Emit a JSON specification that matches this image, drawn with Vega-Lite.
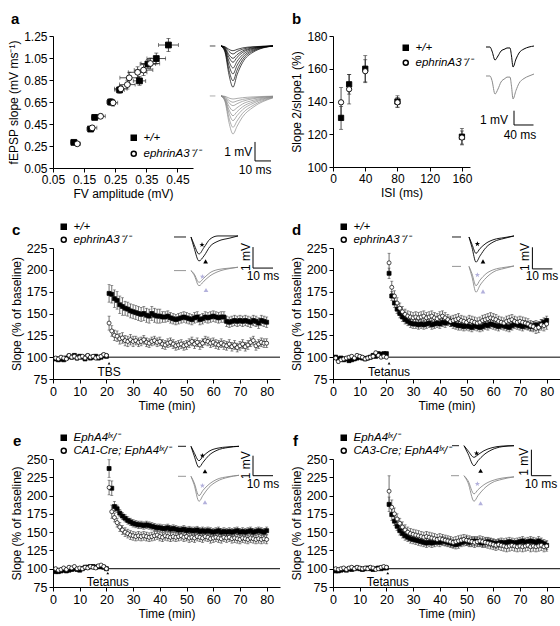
{
"$schema": "https://vega.github.io/schema/vega-lite/v6.json",
"padding": {"left": 7, "top": 12, "right": 2, "bottom": 2},
"config": {
  "font": "Liberation Sans",
  "view": {"stroke": null},
  "axis": {"grid": false, "domainColor": "#000", "tickColor": "#000", "labelColor": "#000", "titleColor": "#000", "labelFontSize": 12, "titleFontSize": 12, "titleFontWeight": "normal", "tickSize": 4, "labelPadding": 2, "titlePadding": 3, "labelOverlap": false, "labelFlush": false, "labelFont": "Liberation Sans", "titleFont": "Liberation Sans"},
  "legend": {"orient": "none", "labelFontSize": 11, "symbolSize": 25, "padding": 0, "labelOffset": 4, "labelColor": "#000", "labelFont": "Liberation Sans", "labelFontStyle": "italic"},
  "title": {"anchor": "start", "frame": "group", "fontSize": 15, "fontWeight": "bold", "color": "#000", "baseline": "alphabetic", "font": "Liberation Sans"},
  "text": {"font": "Liberation Sans", "fontSize": 11, "color": "#000"}
},
"datasets": {
 "io": [
  {"g":"w","x":0.117,"y":0.283,"ex":0.01,"ey":0.015},
  {"g":"w","x":0.171,"y":0.404,"ex":0.012,"ey":0.02},
  {"g":"w","x":0.184,"y":0.51,"ex":0.01,"ey":0.02},
  {"g":"w","x":0.235,"y":0.65,"ex":0.012,"ey":0.03},
  {"g":"w","x":0.264,"y":0.76,"ex":0.015,"ey":0.03},
  {"g":"w","x":0.328,"y":0.842,"ex":0.02,"ey":0.04},
  {"g":"w","x":0.355,"y":0.995,"ex":0.025,"ey":0.04},
  {"g":"w","x":0.382,"y":1.045,"ex":0.03,"ey":0.05},
  {"g":"w","x":0.421,"y":1.168,"ex":0.032,"ey":0.06},
  {"g":"k","x":0.128,"y":0.27,"ex":0.01,"ey":0.015},
  {"g":"k","x":0.176,"y":0.415,"ex":0.015,"ey":0.02},
  {"g":"k","x":0.203,"y":0.52,"ex":0.015,"ey":0.02},
  {"g":"k","x":0.243,"y":0.643,"ex":0.015,"ey":0.03},
  {"g":"k","x":0.268,"y":0.77,"ex":0.02,"ey":0.03},
  {"g":"k","x":0.289,"y":0.808,"ex":0.025,"ey":0.04},
  {"g":"k","x":0.295,"y":0.87,"ex":0.03,"ey":0.05},
  {"g":"k","x":0.322,"y":0.92,"ex":0.03,"ey":0.05},
  {"g":"k","x":0.341,"y":0.94,"ex":0.03,"ey":0.05},
  {"g":"k","x":0.363,"y":1.0,"ex":0.03,"ey":0.05}
 ],
 "pp": [
  {"g":"w","isi":10,"y":130,"e":7},{"g":"w","isi":20,"y":150.5,"e":6},{"g":"w","isi":40,"y":160,"e":8},{"g":"w","isi":80,"y":140,"e":3.5},{"g":"w","isi":160,"y":118.5,"e":5},
  {"g":"k","isi":10,"y":139.5,"e":9},{"g":"k","isi":20,"y":147.5,"e":9},{"g":"k","isi":40,"y":158.5,"e":7},{"g":"k","isi":80,"y":139.5,"e":3},{"g":"k","isi":160,"y":118,"e":4}
 ],
 "tc": [
{"p":"c","g":"w","t":1,"y":98,"e":2},{"p":"c","g":"w","t":2,"y":97,"e":2},{"p":"c","g":"w","t":3,"y":98,"e":2},{"p":"c","g":"w","t":4,"y":97,"e":2},{"p":"c","g":"w","t":5,"y":99,"e":2},{"p":"c","g":"w","t":6,"y":101,"e":2},{"p":"c","g":"w","t":7,"y":100,"e":2},{"p":"c","g":"w","t":8,"y":102,"e":2},{"p":"c","g":"w","t":9,"y":99,"e":2},{"p":"c","g":"w","t":10,"y":101,"e":2},
{"p":"c","g":"w","t":11,"y":100,"e":2},{"p":"c","g":"w","t":12,"y":98,"e":2},{"p":"c","g":"w","t":13,"y":101,"e":2},{"p":"c","g":"w","t":14,"y":99,"e":2},{"p":"c","g":"w","t":15,"y":100,"e":2},{"p":"c","g":"w","t":16,"y":101,"e":2},{"p":"c","g":"w","t":17,"y":99,"e":2},{"p":"c","g":"w","t":18,"y":100,"e":2},{"p":"c","g":"w","t":19,"y":102,"e":2},{"p":"c","g":"w","t":20,"y":101,"e":2},
{"p":"c","g":"w","t":21,"y":173,"e":10},{"p":"c","g":"w","t":22,"y":172,"e":10},{"p":"c","g":"w","t":23,"y":167,"e":10},{"p":"c","g":"w","t":24,"y":165,"e":10},{"p":"c","g":"w","t":25,"y":160,"e":10},{"p":"c","g":"w","t":26,"y":158,"e":10},{"p":"c","g":"w","t":27,"y":156,"e":8},{"p":"c","g":"w","t":28,"y":155,"e":8},{"p":"c","g":"w","t":29,"y":153,"e":8},{"p":"c","g":"w","t":30,"y":152,"e":8},
{"p":"c","g":"w","t":31,"y":151,"e":8},{"p":"c","g":"w","t":32,"y":150,"e":8},{"p":"c","g":"w","t":33,"y":149,"e":8},{"p":"c","g":"w","t":34,"y":150,"e":8},{"p":"c","g":"w","t":35,"y":148,"e":8},{"p":"c","g":"w","t":36,"y":147,"e":8},{"p":"c","g":"w","t":37,"y":150,"e":8},{"p":"c","g":"w","t":38,"y":148,"e":8},{"p":"c","g":"w","t":39,"y":147,"e":8},{"p":"c","g":"w","t":40,"y":147,"e":8},
{"p":"c","g":"w","t":41,"y":146,"e":6},{"p":"c","g":"w","t":42,"y":146,"e":6},{"p":"c","g":"w","t":43,"y":147,"e":6},{"p":"c","g":"w","t":44,"y":145,"e":6},{"p":"c","g":"w","t":45,"y":144,"e":6},{"p":"c","g":"w","t":46,"y":143,"e":6},{"p":"c","g":"w","t":47,"y":144,"e":6},{"p":"c","g":"w","t":48,"y":145,"e":6},{"p":"c","g":"w","t":49,"y":146,"e":6},{"p":"c","g":"w","t":50,"y":145,"e":6},
{"p":"c","g":"w","t":51,"y":144,"e":6},{"p":"c","g":"w","t":52,"y":143,"e":6},{"p":"c","g":"w","t":53,"y":145,"e":6},{"p":"c","g":"w","t":54,"y":146,"e":6},{"p":"c","g":"w","t":55,"y":143,"e":6},{"p":"c","g":"w","t":56,"y":144,"e":6},{"p":"c","g":"w","t":57,"y":146,"e":6},{"p":"c","g":"w","t":58,"y":145,"e":6},{"p":"c","g":"w","t":59,"y":146,"e":6},{"p":"c","g":"w","t":60,"y":147,"e":6},
{"p":"c","g":"w","t":61,"y":146,"e":6},{"p":"c","g":"w","t":62,"y":145,"e":6},{"p":"c","g":"w","t":63,"y":146,"e":6},{"p":"c","g":"w","t":64,"y":146,"e":6},{"p":"c","g":"w","t":65,"y":141,"e":6},{"p":"c","g":"w","t":66,"y":140,"e":6},{"p":"c","g":"w","t":67,"y":141,"e":6},{"p":"c","g":"w","t":68,"y":142,"e":6},{"p":"c","g":"w","t":69,"y":141,"e":6},{"p":"c","g":"w","t":70,"y":142,"e":6},
{"p":"c","g":"w","t":71,"y":141,"e":6},{"p":"c","g":"w","t":72,"y":142,"e":6},{"p":"c","g":"w","t":73,"y":141,"e":6},{"p":"c","g":"w","t":74,"y":140,"e":6},{"p":"c","g":"w","t":75,"y":142,"e":6},{"p":"c","g":"w","t":76,"y":141,"e":6},{"p":"c","g":"w","t":77,"y":139,"e":6},{"p":"c","g":"w","t":78,"y":142,"e":6},{"p":"c","g":"w","t":79,"y":141,"e":6},{"p":"c","g":"w","t":80,"y":140,"e":6},
{"p":"c","g":"k","t":1,"y":99,"e":2},{"p":"c","g":"k","t":2,"y":98,"e":2},{"p":"c","g":"k","t":3,"y":100,"e":2},{"p":"c","g":"k","t":4,"y":99,"e":2},{"p":"c","g":"k","t":5,"y":98,"e":2},{"p":"c","g":"k","t":6,"y":102,"e":2},{"p":"c","g":"k","t":7,"y":100,"e":2},{"p":"c","g":"k","t":8,"y":101,"e":2},{"p":"c","g":"k","t":9,"y":99,"e":2},{"p":"c","g":"k","t":10,"y":100,"e":2},
{"p":"c","g":"k","t":11,"y":101,"e":2},{"p":"c","g":"k","t":12,"y":99,"e":2},{"p":"c","g":"k","t":13,"y":102,"e":2},{"p":"c","g":"k","t":14,"y":100,"e":2},{"p":"c","g":"k","t":15,"y":101,"e":2},{"p":"c","g":"k","t":16,"y":99,"e":2},{"p":"c","g":"k","t":17,"y":100,"e":2},{"p":"c","g":"k","t":18,"y":101,"e":2},{"p":"c","g":"k","t":19,"y":103,"e":2},{"p":"c","g":"k","t":20,"y":102,"e":2},
{"p":"c","g":"k","t":21,"y":139,"e":8},{"p":"c","g":"k","t":22,"y":130,"e":6},{"p":"c","g":"k","t":23,"y":125,"e":6},{"p":"c","g":"k","t":24,"y":124,"e":6},{"p":"c","g":"k","t":25,"y":121,"e":6},{"p":"c","g":"k","t":26,"y":122,"e":6},{"p":"c","g":"k","t":27,"y":119,"e":6},{"p":"c","g":"k","t":28,"y":118,"e":6},{"p":"c","g":"k","t":29,"y":120,"e":6},{"p":"c","g":"k","t":30,"y":118,"e":6},
{"p":"c","g":"k","t":31,"y":119,"e":5},{"p":"c","g":"k","t":32,"y":117,"e":5},{"p":"c","g":"k","t":33,"y":118,"e":5},{"p":"c","g":"k","t":34,"y":120,"e":5},{"p":"c","g":"k","t":35,"y":117,"e":5},{"p":"c","g":"k","t":36,"y":116,"e":5},{"p":"c","g":"k","t":37,"y":118,"e":5},{"p":"c","g":"k","t":38,"y":119,"e":5},{"p":"c","g":"k","t":39,"y":117,"e":5},{"p":"c","g":"k","t":40,"y":118,"e":5},
{"p":"c","g":"k","t":41,"y":115,"e":5},{"p":"c","g":"k","t":42,"y":114,"e":5},{"p":"c","g":"k","t":43,"y":116,"e":5},{"p":"c","g":"k","t":44,"y":117,"e":5},{"p":"c","g":"k","t":45,"y":115,"e":5},{"p":"c","g":"k","t":46,"y":113,"e":5},{"p":"c","g":"k","t":47,"y":114,"e":5},{"p":"c","g":"k","t":48,"y":115,"e":5},{"p":"c","g":"k","t":49,"y":113,"e":5},{"p":"c","g":"k","t":50,"y":114,"e":5},
{"p":"c","g":"k","t":51,"y":116,"e":5},{"p":"c","g":"k","t":52,"y":118,"e":5},{"p":"c","g":"k","t":53,"y":115,"e":5},{"p":"c","g":"k","t":54,"y":117,"e":5},{"p":"c","g":"k","t":55,"y":114,"e":5},{"p":"c","g":"k","t":56,"y":116,"e":5},{"p":"c","g":"k","t":57,"y":119,"e":5},{"p":"c","g":"k","t":58,"y":118,"e":5},{"p":"c","g":"k","t":59,"y":116,"e":5},{"p":"c","g":"k","t":60,"y":117,"e":5},
{"p":"c","g":"k","t":61,"y":115,"e":5},{"p":"c","g":"k","t":62,"y":114,"e":5},{"p":"c","g":"k","t":63,"y":116,"e":5},{"p":"c","g":"k","t":64,"y":114,"e":5},{"p":"c","g":"k","t":65,"y":113,"e":5},{"p":"c","g":"k","t":66,"y":115,"e":5},{"p":"c","g":"k","t":67,"y":112,"e":5},{"p":"c","g":"k","t":68,"y":114,"e":5},{"p":"c","g":"k","t":69,"y":111,"e":5},{"p":"c","g":"k","t":70,"y":113,"e":5},
{"p":"c","g":"k","t":71,"y":115,"e":5},{"p":"c","g":"k","t":72,"y":112,"e":5},{"p":"c","g":"k","t":73,"y":114,"e":5},{"p":"c","g":"k","t":74,"y":117,"e":5},{"p":"c","g":"k","t":75,"y":119,"e":5},{"p":"c","g":"k","t":76,"y":113,"e":5},{"p":"c","g":"k","t":77,"y":115,"e":5},{"p":"c","g":"k","t":78,"y":117,"e":5},{"p":"c","g":"k","t":79,"y":116,"e":5},{"p":"c","g":"k","t":80,"y":116,"e":5},
{"p":"d","g":"w","t":1,"y":100,"e":2},{"p":"d","g":"w","t":2,"y":98,"e":2},{"p":"d","g":"w","t":3,"y":99,"e":2},{"p":"d","g":"w","t":4,"y":97,"e":2},{"p":"d","g":"w","t":5,"y":98,"e":2},{"p":"d","g":"w","t":6,"y":96,"e":2},{"p":"d","g":"w","t":7,"y":97,"e":2},{"p":"d","g":"w","t":8,"y":98,"e":2},{"p":"d","g":"w","t":9,"y":99,"e":2},{"p":"d","g":"w","t":10,"y":100,"e":2},
{"p":"d","g":"w","t":11,"y":99,"e":2},{"p":"d","g":"w","t":12,"y":98,"e":2},{"p":"d","g":"w","t":13,"y":99,"e":2},{"p":"d","g":"w","t":14,"y":100,"e":2},{"p":"d","g":"w","t":15,"y":102,"e":2},{"p":"d","g":"w","t":16,"y":101,"e":2},{"p":"d","g":"w","t":17,"y":104,"e":2},{"p":"d","g":"w","t":18,"y":103,"e":2},{"p":"d","g":"w","t":19,"y":104,"e":2},{"p":"d","g":"w","t":20,"y":104,"e":2},
{"p":"d","g":"w","t":21,"y":196,"e":6},{"p":"d","g":"w","t":22,"y":170,"e":5},{"p":"d","g":"w","t":23,"y":162,"e":5},{"p":"d","g":"w","t":24,"y":155,"e":5},{"p":"d","g":"w","t":25,"y":150,"e":5},{"p":"d","g":"w","t":26,"y":146,"e":5},{"p":"d","g":"w","t":27,"y":143,"e":5},{"p":"d","g":"w","t":28,"y":141,"e":5},{"p":"d","g":"w","t":29,"y":139,"e":5},{"p":"d","g":"w","t":30,"y":138,"e":5},
{"p":"d","g":"w","t":31,"y":138,"e":5},{"p":"d","g":"w","t":32,"y":137,"e":5},{"p":"d","g":"w","t":33,"y":138,"e":5},{"p":"d","g":"w","t":34,"y":137,"e":5},{"p":"d","g":"w","t":35,"y":138,"e":5},{"p":"d","g":"w","t":36,"y":139,"e":5},{"p":"d","g":"w","t":37,"y":137,"e":5},{"p":"d","g":"w","t":38,"y":138,"e":5},{"p":"d","g":"w","t":39,"y":139,"e":5},{"p":"d","g":"w","t":40,"y":138,"e":5},
{"p":"d","g":"w","t":41,"y":140,"e":5},{"p":"d","g":"w","t":42,"y":139,"e":5},{"p":"d","g":"w","t":43,"y":141,"e":5},{"p":"d","g":"w","t":44,"y":140,"e":5},{"p":"d","g":"w","t":45,"y":138,"e":5},{"p":"d","g":"w","t":46,"y":137,"e":5},{"p":"d","g":"w","t":47,"y":136,"e":5},{"p":"d","g":"w","t":48,"y":136,"e":5},{"p":"d","g":"w","t":49,"y":135,"e":5},{"p":"d","g":"w","t":50,"y":136,"e":5},
{"p":"d","g":"w","t":51,"y":135,"e":5},{"p":"d","g":"w","t":52,"y":134,"e":5},{"p":"d","g":"w","t":53,"y":136,"e":5},{"p":"d","g":"w","t":54,"y":135,"e":5},{"p":"d","g":"w","t":55,"y":134,"e":5},{"p":"d","g":"w","t":56,"y":135,"e":5},{"p":"d","g":"w","t":57,"y":137,"e":5},{"p":"d","g":"w","t":58,"y":136,"e":5},{"p":"d","g":"w","t":59,"y":138,"e":5},{"p":"d","g":"w","t":60,"y":137,"e":5},
{"p":"d","g":"w","t":61,"y":136,"e":5},{"p":"d","g":"w","t":62,"y":135,"e":5},{"p":"d","g":"w","t":63,"y":137,"e":5},{"p":"d","g":"w","t":64,"y":136,"e":5},{"p":"d","g":"w","t":65,"y":135,"e":5},{"p":"d","g":"w","t":66,"y":134,"e":5},{"p":"d","g":"w","t":67,"y":136,"e":5},{"p":"d","g":"w","t":68,"y":138,"e":5},{"p":"d","g":"w","t":69,"y":137,"e":5},{"p":"d","g":"w","t":70,"y":136,"e":5},
{"p":"d","g":"w","t":71,"y":135,"e":5},{"p":"d","g":"w","t":72,"y":137,"e":5},{"p":"d","g":"w","t":73,"y":136,"e":5},{"p":"d","g":"w","t":74,"y":135,"e":5},{"p":"d","g":"w","t":75,"y":136,"e":5},{"p":"d","g":"w","t":76,"y":137,"e":5},{"p":"d","g":"w","t":77,"y":136,"e":5},{"p":"d","g":"w","t":78,"y":138,"e":5},{"p":"d","g":"w","t":79,"y":140,"e":5},{"p":"d","g":"w","t":80,"y":142,"e":5},
{"p":"d","g":"k","t":1,"y":99,"e":2},{"p":"d","g":"k","t":2,"y":95,"e":2},{"p":"d","g":"k","t":3,"y":97,"e":2},{"p":"d","g":"k","t":4,"y":98,"e":2},{"p":"d","g":"k","t":5,"y":99,"e":2},{"p":"d","g":"k","t":6,"y":100,"e":2},{"p":"d","g":"k","t":7,"y":101,"e":2},{"p":"d","g":"k","t":8,"y":99,"e":2},{"p":"d","g":"k","t":9,"y":102,"e":2},{"p":"d","g":"k","t":10,"y":101,"e":2},
{"p":"d","g":"k","t":11,"y":100,"e":2},{"p":"d","g":"k","t":12,"y":98,"e":2},{"p":"d","g":"k","t":13,"y":99,"e":2},{"p":"d","g":"k","t":14,"y":100,"e":2},{"p":"d","g":"k","t":15,"y":101,"e":2},{"p":"d","g":"k","t":16,"y":105,"e":2},{"p":"d","g":"k","t":17,"y":102,"e":2},{"p":"d","g":"k","t":18,"y":100,"e":2},{"p":"d","g":"k","t":19,"y":101,"e":2},{"p":"d","g":"k","t":20,"y":100,"e":2},
{"p":"d","g":"k","t":21,"y":208,"e":11},{"p":"d","g":"k","t":22,"y":180,"e":7},{"p":"d","g":"k","t":23,"y":170,"e":6},{"p":"d","g":"k","t":24,"y":162,"e":6},{"p":"d","g":"k","t":25,"y":156,"e":6},{"p":"d","g":"k","t":26,"y":152,"e":6},{"p":"d","g":"k","t":27,"y":149,"e":6},{"p":"d","g":"k","t":28,"y":147,"e":6},{"p":"d","g":"k","t":29,"y":146,"e":6},{"p":"d","g":"k","t":30,"y":145,"e":6},
{"p":"d","g":"k","t":31,"y":146,"e":6},{"p":"d","g":"k","t":32,"y":145,"e":6},{"p":"d","g":"k","t":33,"y":146,"e":6},{"p":"d","g":"k","t":34,"y":147,"e":6},{"p":"d","g":"k","t":35,"y":145,"e":6},{"p":"d","g":"k","t":36,"y":146,"e":6},{"p":"d","g":"k","t":37,"y":147,"e":6},{"p":"d","g":"k","t":38,"y":145,"e":6},{"p":"d","g":"k","t":39,"y":144,"e":6},{"p":"d","g":"k","t":40,"y":146,"e":6},
{"p":"d","g":"k","t":41,"y":147,"e":6},{"p":"d","g":"k","t":42,"y":145,"e":6},{"p":"d","g":"k","t":43,"y":143,"e":6},{"p":"d","g":"k","t":44,"y":141,"e":6},{"p":"d","g":"k","t":45,"y":142,"e":6},{"p":"d","g":"k","t":46,"y":143,"e":6},{"p":"d","g":"k","t":47,"y":144,"e":6},{"p":"d","g":"k","t":48,"y":142,"e":6},{"p":"d","g":"k","t":49,"y":141,"e":6},{"p":"d","g":"k","t":50,"y":140,"e":6},
{"p":"d","g":"k","t":51,"y":142,"e":6},{"p":"d","g":"k","t":52,"y":141,"e":6},{"p":"d","g":"k","t":53,"y":140,"e":6},{"p":"d","g":"k","t":54,"y":139,"e":6},{"p":"d","g":"k","t":55,"y":140,"e":6},{"p":"d","g":"k","t":56,"y":142,"e":6},{"p":"d","g":"k","t":57,"y":143,"e":6},{"p":"d","g":"k","t":58,"y":144,"e":6},{"p":"d","g":"k","t":59,"y":145,"e":6},{"p":"d","g":"k","t":60,"y":144,"e":6},
{"p":"d","g":"k","t":61,"y":143,"e":6},{"p":"d","g":"k","t":62,"y":141,"e":6},{"p":"d","g":"k","t":63,"y":140,"e":6},{"p":"d","g":"k","t":64,"y":139,"e":6},{"p":"d","g":"k","t":65,"y":141,"e":6},{"p":"d","g":"k","t":66,"y":142,"e":6},{"p":"d","g":"k","t":67,"y":143,"e":6},{"p":"d","g":"k","t":68,"y":141,"e":6},{"p":"d","g":"k","t":69,"y":140,"e":6},{"p":"d","g":"k","t":70,"y":141,"e":6},
{"p":"d","g":"k","t":71,"y":140,"e":6},{"p":"d","g":"k","t":72,"y":139,"e":6},{"p":"d","g":"k","t":73,"y":138,"e":6},{"p":"d","g":"k","t":74,"y":136,"e":6},{"p":"d","g":"k","t":75,"y":135,"e":6},{"p":"d","g":"k","t":76,"y":133,"e":6},{"p":"d","g":"k","t":77,"y":134,"e":6},{"p":"d","g":"k","t":78,"y":137,"e":6},{"p":"d","g":"k","t":79,"y":136,"e":6},{"p":"d","g":"k","t":80,"y":138,"e":6},
{"p":"e","g":"w","t":1,"y":96,"e":2},{"p":"e","g":"w","t":2,"y":96,"e":2},{"p":"e","g":"w","t":3,"y":97,"e":2},{"p":"e","g":"w","t":4,"y":98,"e":2},{"p":"e","g":"w","t":5,"y":97,"e":2},{"p":"e","g":"w","t":6,"y":98,"e":2},{"p":"e","g":"w","t":7,"y":99,"e":2},{"p":"e","g":"w","t":8,"y":100,"e":2},{"p":"e","g":"w","t":9,"y":99,"e":2},{"p":"e","g":"w","t":10,"y":98,"e":2},
{"p":"e","g":"w","t":11,"y":100,"e":2},{"p":"e","g":"w","t":12,"y":102,"e":2},{"p":"e","g":"w","t":13,"y":102,"e":2},{"p":"e","g":"w","t":14,"y":103,"e":2},{"p":"e","g":"w","t":15,"y":103,"e":2},{"p":"e","g":"w","t":16,"y":102,"e":2},{"p":"e","g":"w","t":17,"y":103,"e":2},{"p":"e","g":"w","t":18,"y":103,"e":2},{"p":"e","g":"w","t":19,"y":102,"e":2},{"p":"e","g":"w","t":20,"y":100,"e":2},
{"p":"e","g":"w","t":21,"y":237,"e":12},{"p":"e","g":"w","t":22,"y":210,"e":10},{"p":"e","g":"w","t":23,"y":185,"e":7},{"p":"e","g":"w","t":24,"y":182,"e":5},{"p":"e","g":"w","t":25,"y":176,"e":5},{"p":"e","g":"w","t":26,"y":172,"e":5},{"p":"e","g":"w","t":27,"y":169,"e":5},{"p":"e","g":"w","t":28,"y":166,"e":5},{"p":"e","g":"w","t":29,"y":164,"e":5},{"p":"e","g":"w","t":30,"y":162,"e":5},
{"p":"e","g":"w","t":31,"y":161,"e":5},{"p":"e","g":"w","t":32,"y":160,"e":5},{"p":"e","g":"w","t":33,"y":160,"e":5},{"p":"e","g":"w","t":34,"y":159,"e":5},{"p":"e","g":"w","t":35,"y":160,"e":5},{"p":"e","g":"w","t":36,"y":159,"e":5},{"p":"e","g":"w","t":37,"y":158,"e":5},{"p":"e","g":"w","t":38,"y":157,"e":5},{"p":"e","g":"w","t":39,"y":156,"e":5},{"p":"e","g":"w","t":40,"y":156,"e":5},
{"p":"e","g":"w","t":41,"y":155,"e":5},{"p":"e","g":"w","t":42,"y":155,"e":5},{"p":"e","g":"w","t":43,"y":156,"e":5},{"p":"e","g":"w","t":44,"y":154,"e":5},{"p":"e","g":"w","t":45,"y":155,"e":5},{"p":"e","g":"w","t":46,"y":154,"e":5},{"p":"e","g":"w","t":47,"y":153,"e":5},{"p":"e","g":"w","t":48,"y":153,"e":5},{"p":"e","g":"w","t":49,"y":154,"e":5},{"p":"e","g":"w","t":50,"y":152,"e":5},
{"p":"e","g":"w","t":51,"y":153,"e":5},{"p":"e","g":"w","t":52,"y":152,"e":5},{"p":"e","g":"w","t":53,"y":152,"e":5},{"p":"e","g":"w","t":54,"y":153,"e":5},{"p":"e","g":"w","t":55,"y":151,"e":5},{"p":"e","g":"w","t":56,"y":152,"e":5},{"p":"e","g":"w","t":57,"y":151,"e":5},{"p":"e","g":"w","t":58,"y":152,"e":5},{"p":"e","g":"w","t":59,"y":151,"e":5},{"p":"e","g":"w","t":60,"y":150,"e":5},
{"p":"e","g":"w","t":61,"y":151,"e":5},{"p":"e","g":"w","t":62,"y":152,"e":5},{"p":"e","g":"w","t":63,"y":150,"e":5},{"p":"e","g":"w","t":64,"y":151,"e":5},{"p":"e","g":"w","t":65,"y":150,"e":5},{"p":"e","g":"w","t":66,"y":151,"e":5},{"p":"e","g":"w","t":67,"y":150,"e":5},{"p":"e","g":"w","t":68,"y":151,"e":5},{"p":"e","g":"w","t":69,"y":152,"e":5},{"p":"e","g":"w","t":70,"y":150,"e":5},
{"p":"e","g":"w","t":71,"y":151,"e":5},{"p":"e","g":"w","t":72,"y":150,"e":5},{"p":"e","g":"w","t":73,"y":151,"e":5},{"p":"e","g":"w","t":74,"y":152,"e":5},{"p":"e","g":"w","t":75,"y":150,"e":5},{"p":"e","g":"w","t":76,"y":151,"e":5},{"p":"e","g":"w","t":77,"y":152,"e":5},{"p":"e","g":"w","t":78,"y":151,"e":5},{"p":"e","g":"w","t":79,"y":150,"e":5},{"p":"e","g":"w","t":80,"y":152,"e":5},
{"p":"e","g":"k","t":1,"y":100,"e":2},{"p":"e","g":"k","t":2,"y":98,"e":2},{"p":"e","g":"k","t":3,"y":99,"e":2},{"p":"e","g":"k","t":4,"y":101,"e":2},{"p":"e","g":"k","t":5,"y":99,"e":2},{"p":"e","g":"k","t":6,"y":102,"e":2},{"p":"e","g":"k","t":7,"y":101,"e":2},{"p":"e","g":"k","t":8,"y":103,"e":2},{"p":"e","g":"k","t":9,"y":100,"e":2},{"p":"e","g":"k","t":10,"y":101,"e":2},
{"p":"e","g":"k","t":11,"y":100,"e":2},{"p":"e","g":"k","t":12,"y":102,"e":2},{"p":"e","g":"k","t":13,"y":101,"e":2},{"p":"e","g":"k","t":14,"y":103,"e":2},{"p":"e","g":"k","t":15,"y":102,"e":2},{"p":"e","g":"k","t":16,"y":101,"e":2},{"p":"e","g":"k","t":17,"y":104,"e":2},{"p":"e","g":"k","t":18,"y":105,"e":2},{"p":"e","g":"k","t":19,"y":103,"e":2},{"p":"e","g":"k","t":20,"y":100,"e":2},
{"p":"e","g":"k","t":21,"y":211,"e":10},{"p":"e","g":"k","t":22,"y":178,"e":9},{"p":"e","g":"k","t":23,"y":170,"e":6},{"p":"e","g":"k","t":24,"y":163,"e":6},{"p":"e","g":"k","t":25,"y":157,"e":6},{"p":"e","g":"k","t":26,"y":153,"e":6},{"p":"e","g":"k","t":27,"y":150,"e":6},{"p":"e","g":"k","t":28,"y":148,"e":6},{"p":"e","g":"k","t":29,"y":146,"e":6},{"p":"e","g":"k","t":30,"y":145,"e":6},
{"p":"e","g":"k","t":31,"y":144,"e":6},{"p":"e","g":"k","t":32,"y":145,"e":6},{"p":"e","g":"k","t":33,"y":144,"e":6},{"p":"e","g":"k","t":34,"y":145,"e":6},{"p":"e","g":"k","t":35,"y":144,"e":6},{"p":"e","g":"k","t":36,"y":143,"e":6},{"p":"e","g":"k","t":37,"y":144,"e":6},{"p":"e","g":"k","t":38,"y":145,"e":6},{"p":"e","g":"k","t":39,"y":146,"e":6},{"p":"e","g":"k","t":40,"y":144,"e":6},
{"p":"e","g":"k","t":41,"y":143,"e":6},{"p":"e","g":"k","t":42,"y":145,"e":6},{"p":"e","g":"k","t":43,"y":144,"e":6},{"p":"e","g":"k","t":44,"y":143,"e":6},{"p":"e","g":"k","t":45,"y":144,"e":6},{"p":"e","g":"k","t":46,"y":143,"e":6},{"p":"e","g":"k","t":47,"y":144,"e":6},{"p":"e","g":"k","t":48,"y":145,"e":6},{"p":"e","g":"k","t":49,"y":143,"e":6},{"p":"e","g":"k","t":50,"y":144,"e":6},
{"p":"e","g":"k","t":51,"y":142,"e":6},{"p":"e","g":"k","t":52,"y":143,"e":6},{"p":"e","g":"k","t":53,"y":142,"e":6},{"p":"e","g":"k","t":54,"y":144,"e":6},{"p":"e","g":"k","t":55,"y":143,"e":6},{"p":"e","g":"k","t":56,"y":142,"e":6},{"p":"e","g":"k","t":57,"y":144,"e":6},{"p":"e","g":"k","t":58,"y":143,"e":6},{"p":"e","g":"k","t":59,"y":141,"e":6},{"p":"e","g":"k","t":60,"y":142,"e":6},
{"p":"e","g":"k","t":61,"y":143,"e":6},{"p":"e","g":"k","t":62,"y":142,"e":6},{"p":"e","g":"k","t":63,"y":141,"e":6},{"p":"e","g":"k","t":64,"y":143,"e":6},{"p":"e","g":"k","t":65,"y":142,"e":6},{"p":"e","g":"k","t":66,"y":143,"e":6},{"p":"e","g":"k","t":67,"y":141,"e":6},{"p":"e","g":"k","t":68,"y":142,"e":6},{"p":"e","g":"k","t":69,"y":141,"e":6},{"p":"e","g":"k","t":70,"y":140,"e":6},
{"p":"e","g":"k","t":71,"y":142,"e":6},{"p":"e","g":"k","t":72,"y":141,"e":6},{"p":"e","g":"k","t":73,"y":140,"e":6},{"p":"e","g":"k","t":74,"y":142,"e":6},{"p":"e","g":"k","t":75,"y":141,"e":6},{"p":"e","g":"k","t":76,"y":140,"e":6},{"p":"e","g":"k","t":77,"y":141,"e":6},{"p":"e","g":"k","t":78,"y":140,"e":6},{"p":"e","g":"k","t":79,"y":141,"e":6},{"p":"e","g":"k","t":80,"y":140,"e":6},
{"p":"f","g":"w","t":1,"y":97,"e":2},{"p":"f","g":"w","t":2,"y":97,"e":2},{"p":"f","g":"w","t":3,"y":98,"e":2},{"p":"f","g":"w","t":4,"y":99,"e":2},{"p":"f","g":"w","t":5,"y":98,"e":2},{"p":"f","g":"w","t":6,"y":100,"e":2},{"p":"f","g":"w","t":7,"y":99,"e":2},{"p":"f","g":"w","t":8,"y":100,"e":2},{"p":"f","g":"w","t":9,"y":101,"e":2},{"p":"f","g":"w","t":10,"y":100,"e":2},
{"p":"f","g":"w","t":11,"y":99,"e":2},{"p":"f","g":"w","t":12,"y":100,"e":2},{"p":"f","g":"w","t":13,"y":101,"e":2},{"p":"f","g":"w","t":14,"y":100,"e":2},{"p":"f","g":"w","t":15,"y":99,"e":2},{"p":"f","g":"w","t":16,"y":100,"e":2},{"p":"f","g":"w","t":17,"y":101,"e":2},{"p":"f","g":"w","t":18,"y":100,"e":2},{"p":"f","g":"w","t":19,"y":101,"e":2},{"p":"f","g":"w","t":20,"y":101,"e":2},
{"p":"f","g":"w","t":21,"y":188,"e":10},{"p":"f","g":"w","t":22,"y":174,"e":8},{"p":"f","g":"w","t":23,"y":165,"e":6},{"p":"f","g":"w","t":24,"y":158,"e":6},{"p":"f","g":"w","t":25,"y":152,"e":6},{"p":"f","g":"w","t":26,"y":148,"e":6},{"p":"f","g":"w","t":27,"y":145,"e":6},{"p":"f","g":"w","t":28,"y":143,"e":6},{"p":"f","g":"w","t":29,"y":141,"e":6},{"p":"f","g":"w","t":30,"y":140,"e":6},
{"p":"f","g":"w","t":31,"y":139,"e":6},{"p":"f","g":"w","t":32,"y":138,"e":6},{"p":"f","g":"w","t":33,"y":137,"e":6},{"p":"f","g":"w","t":34,"y":136,"e":6},{"p":"f","g":"w","t":35,"y":135,"e":6},{"p":"f","g":"w","t":36,"y":136,"e":6},{"p":"f","g":"w","t":37,"y":135,"e":6},{"p":"f","g":"w","t":38,"y":136,"e":6},{"p":"f","g":"w","t":39,"y":137,"e":6},{"p":"f","g":"w","t":40,"y":136,"e":6},
{"p":"f","g":"w","t":41,"y":138,"e":6},{"p":"f","g":"w","t":42,"y":137,"e":6},{"p":"f","g":"w","t":43,"y":136,"e":6},{"p":"f","g":"w","t":44,"y":135,"e":6},{"p":"f","g":"w","t":45,"y":134,"e":6},{"p":"f","g":"w","t":46,"y":133,"e":6},{"p":"f","g":"w","t":47,"y":134,"e":6},{"p":"f","g":"w","t":48,"y":136,"e":6},{"p":"f","g":"w","t":49,"y":137,"e":6},{"p":"f","g":"w","t":50,"y":138,"e":6},
{"p":"f","g":"w","t":51,"y":136,"e":6},{"p":"f","g":"w","t":52,"y":137,"e":6},{"p":"f","g":"w","t":53,"y":138,"e":6},{"p":"f","g":"w","t":54,"y":137,"e":6},{"p":"f","g":"w","t":55,"y":136,"e":6},{"p":"f","g":"w","t":56,"y":135,"e":6},{"p":"f","g":"w","t":57,"y":136,"e":6},{"p":"f","g":"w","t":58,"y":137,"e":6},{"p":"f","g":"w","t":59,"y":136,"e":6},{"p":"f","g":"w","t":60,"y":135,"e":6},
{"p":"f","g":"w","t":61,"y":134,"e":6},{"p":"f","g":"w","t":62,"y":135,"e":6},{"p":"f","g":"w","t":63,"y":136,"e":6},{"p":"f","g":"w","t":64,"y":135,"e":6},{"p":"f","g":"w","t":65,"y":136,"e":6},{"p":"f","g":"w","t":66,"y":137,"e":6},{"p":"f","g":"w","t":67,"y":136,"e":6},{"p":"f","g":"w","t":68,"y":135,"e":6},{"p":"f","g":"w","t":69,"y":136,"e":6},{"p":"f","g":"w","t":70,"y":137,"e":6},
{"p":"f","g":"w","t":71,"y":138,"e":6},{"p":"f","g":"w","t":72,"y":136,"e":6},{"p":"f","g":"w","t":73,"y":137,"e":6},{"p":"f","g":"w","t":74,"y":138,"e":6},{"p":"f","g":"w","t":75,"y":137,"e":6},{"p":"f","g":"w","t":76,"y":136,"e":6},{"p":"f","g":"w","t":77,"y":138,"e":6},{"p":"f","g":"w","t":78,"y":136,"e":6},{"p":"f","g":"w","t":79,"y":134,"e":6},{"p":"f","g":"w","t":80,"y":132,"e":6},
{"p":"f","g":"k","t":1,"y":100,"e":2},{"p":"f","g":"k","t":2,"y":99,"e":2},{"p":"f","g":"k","t":3,"y":100,"e":2},{"p":"f","g":"k","t":4,"y":101,"e":2},{"p":"f","g":"k","t":5,"y":99,"e":2},{"p":"f","g":"k","t":6,"y":101,"e":2},{"p":"f","g":"k","t":7,"y":102,"e":2},{"p":"f","g":"k","t":8,"y":100,"e":2},{"p":"f","g":"k","t":9,"y":102,"e":2},{"p":"f","g":"k","t":10,"y":101,"e":2},
{"p":"f","g":"k","t":11,"y":100,"e":2},{"p":"f","g":"k","t":12,"y":101,"e":2},{"p":"f","g":"k","t":13,"y":100,"e":2},{"p":"f","g":"k","t":14,"y":102,"e":2},{"p":"f","g":"k","t":15,"y":101,"e":2},{"p":"f","g":"k","t":16,"y":99,"e":2},{"p":"f","g":"k","t":17,"y":100,"e":2},{"p":"f","g":"k","t":18,"y":102,"e":2},{"p":"f","g":"k","t":19,"y":103,"e":2},{"p":"f","g":"k","t":20,"y":102,"e":2},
{"p":"f","g":"k","t":21,"y":206,"e":21},{"p":"f","g":"k","t":22,"y":184,"e":10},{"p":"f","g":"k","t":23,"y":175,"e":8},{"p":"f","g":"k","t":24,"y":168,"e":7},{"p":"f","g":"k","t":25,"y":162,"e":7},{"p":"f","g":"k","t":26,"y":157,"e":7},{"p":"f","g":"k","t":27,"y":153,"e":7},{"p":"f","g":"k","t":28,"y":150,"e":7},{"p":"f","g":"k","t":29,"y":148,"e":7},{"p":"f","g":"k","t":30,"y":147,"e":7},
{"p":"f","g":"k","t":31,"y":146,"e":7},{"p":"f","g":"k","t":32,"y":145,"e":7},{"p":"f","g":"k","t":33,"y":144,"e":7},{"p":"f","g":"k","t":34,"y":143,"e":7},{"p":"f","g":"k","t":35,"y":144,"e":7},{"p":"f","g":"k","t":36,"y":143,"e":7},{"p":"f","g":"k","t":37,"y":142,"e":7},{"p":"f","g":"k","t":38,"y":141,"e":7},{"p":"f","g":"k","t":39,"y":140,"e":7},{"p":"f","g":"k","t":40,"y":141,"e":7},
{"p":"f","g":"k","t":41,"y":140,"e":7},{"p":"f","g":"k","t":42,"y":139,"e":7},{"p":"f","g":"k","t":43,"y":138,"e":7},{"p":"f","g":"k","t":44,"y":137,"e":7},{"p":"f","g":"k","t":45,"y":136,"e":7},{"p":"f","g":"k","t":46,"y":137,"e":7},{"p":"f","g":"k","t":47,"y":138,"e":7},{"p":"f","g":"k","t":48,"y":139,"e":7},{"p":"f","g":"k","t":49,"y":140,"e":7},{"p":"f","g":"k","t":50,"y":139,"e":7},
{"p":"f","g":"k","t":51,"y":138,"e":7},{"p":"f","g":"k","t":52,"y":137,"e":7},{"p":"f","g":"k","t":53,"y":136,"e":7},{"p":"f","g":"k","t":54,"y":137,"e":7},{"p":"f","g":"k","t":55,"y":138,"e":7},{"p":"f","g":"k","t":56,"y":137,"e":7},{"p":"f","g":"k","t":57,"y":136,"e":7},{"p":"f","g":"k","t":58,"y":135,"e":7},{"p":"f","g":"k","t":59,"y":134,"e":7},{"p":"f","g":"k","t":60,"y":133,"e":7},
{"p":"f","g":"k","t":61,"y":132,"e":7},{"p":"f","g":"k","t":62,"y":133,"e":7},{"p":"f","g":"k","t":63,"y":132,"e":7},{"p":"f","g":"k","t":64,"y":131,"e":7},{"p":"f","g":"k","t":65,"y":130,"e":7},{"p":"f","g":"k","t":66,"y":131,"e":7},{"p":"f","g":"k","t":67,"y":132,"e":7},{"p":"f","g":"k","t":68,"y":131,"e":7},{"p":"f","g":"k","t":69,"y":130,"e":7},{"p":"f","g":"k","t":70,"y":131,"e":7},
{"p":"f","g":"k","t":71,"y":130,"e":7},{"p":"f","g":"k","t":72,"y":131,"e":7},{"p":"f","g":"k","t":73,"y":132,"e":7},{"p":"f","g":"k","t":74,"y":130,"e":7},{"p":"f","g":"k","t":75,"y":131,"e":7},{"p":"f","g":"k","t":76,"y":130,"e":7},{"p":"f","g":"k","t":77,"y":131,"e":7},{"p":"f","g":"k","t":78,"y":132,"e":7},{"p":"f","g":"k","t":79,"y":130,"e":7},{"p":"f","g":"k","t":80,"y":131,"e":7}
 ]
},
"columns": 2,
"spacing": {"row": 80, "column": 53},
"bounds": "flush",
"align": "each",
"resolve": {"scale": {"shape": "independent", "fill": "independent", "color": "independent"}, "legend": {"shape": "independent", "fill": "independent", "color": "independent"}},
"concat": [
 {
  "width": 140, "height": 132,
  "title": {"text": "a", "dx": -42, "offset": 3},
  "resolve": {"scale": {"x": "independent", "y": "independent"}},
  "layer": [
   {
    "data": {"name": "io"},
    "encoding": {
     "x": {"field": "x", "type": "quantitative", "title": "FV amplitude (mV)", "scale": {"domain": [0.05, 0.5], "nice": false, "zero": false}, "axis": {"values": [0.05, 0.15, 0.25, 0.35, 0.45], "format": ".2f", "labelOverlap": false}},
     "y": {"field": "y", "type": "quantitative", "title": "fEPSP slope (mV ms⁻¹)", "scale": {"domain": [0.05, 1.25], "nice": false, "zero": false}, "axis": {"values": [0.05, 0.25, 0.45, 0.65, 0.85, 1.05, 1.25], "format": ".2f", "labelOverlap": false}}
    },
    "layer": [
     {"mark": {"type": "errorbar", "ticks": true, "size": 4, "thickness": 0.8, "color": "#222"}, "encoding": {"xError": {"field": "ex"}}},
     {"mark": {"type": "errorbar", "ticks": true, "size": 4, "thickness": 0.8, "color": "#222"}, "encoding": {"yError": {"field": "ey"}}},
     {"mark": {"type": "point", "filled": true, "stroke": "#000", "strokeWidth": 0.9, "size": 34, "opacity": 1},
      "encoding": {
       "shape": {"field": "g", "type": "nominal", "scale": {"domain": ["w", "k"], "range": ["square", "circle"]}, "legend": {"title": null, "legendX": 75, "legendY": 96, "rowPadding": 3, "labelFontSize": 11.5, "labelExpr": "datum.value == 'w' ? '+/+' : 'ephrinA3⁻/⁻'", "encode": {"symbols": {"update": {"stroke": {"value": "#000"}, "strokeWidth": {"value": 0.8}}}}}},
       "fill": {"field": "g", "type": "nominal", "scale": {"domain": ["w", "k"], "range": ["#000", "#fff"]}, "legend": {"title": null, "legendX": 75, "legendY": 96, "rowPadding": 3, "labelFontSize": 11.5, "labelExpr": "datum.value == 'w' ? '+/+' : 'ephrinA3⁻/⁻'", "encode": {"symbols": {"update": {"stroke": {"value": "#000"}, "strokeWidth": {"value": 0.8}}}}}}
      }}
    ]
   },
   {
    "layer": [
     {"data": {"values": [
       {"id":"kd","c":"k","t":0.5,"v":0},{"id":"kd","c":"k","t":4,"v":0},
       {"id":"gd","c":"g","t":0.5,"v":-2.63},{"id":"gd","c":"g","t":4,"v":-2.63},
       {"id":"k1","c":"k","t":7.5,"v":0},{"id":"k1","c":"k","t":10,"v":-0.33},{"id":"k1","c":"k","t":12.5,"v":-1.52},{"id":"k1","c":"k","t":15,"v":-2.17},{"id":"k1","c":"k","t":17.5,"v":-1.52},{"id":"k1","c":"k","t":21,"v":-0.87},{"id":"k1","c":"k","t":27.5,"v":-0.33},{"id":"k1","c":"k","t":40,"v":0},
       {"id":"k2","c":"k","t":7.5,"v":0},{"id":"k2","c":"k","t":10,"v":-0.27},{"id":"k2","c":"k","t":12.5,"v":-1.28},{"id":"k2","c":"k","t":15,"v":-1.83},{"id":"k2","c":"k","t":17.5,"v":-1.28},{"id":"k2","c":"k","t":21,"v":-0.73},{"id":"k2","c":"k","t":27.5,"v":-0.27},{"id":"k2","c":"k","t":40,"v":0},
       {"id":"k3","c":"k","t":7.5,"v":0},{"id":"k3","c":"k","t":10,"v":-0.22},{"id":"k3","c":"k","t":12.5,"v":-1.03},{"id":"k3","c":"k","t":15,"v":-1.47},{"id":"k3","c":"k","t":17.5,"v":-1.03},{"id":"k3","c":"k","t":21,"v":-0.59},{"id":"k3","c":"k","t":27.5,"v":-0.22},{"id":"k3","c":"k","t":40,"v":0},
       {"id":"k4","c":"k","t":7.5,"v":0},{"id":"k4","c":"k","t":10,"v":-0.17},{"id":"k4","c":"k","t":12.5,"v":-0.81},{"id":"k4","c":"k","t":15,"v":-1.16},{"id":"k4","c":"k","t":17.5,"v":-0.81},{"id":"k4","c":"k","t":21,"v":-0.46},{"id":"k4","c":"k","t":27.5,"v":-0.17},{"id":"k4","c":"k","t":40,"v":0},
       {"id":"k5","c":"k","t":7.5,"v":0},{"id":"k5","c":"k","t":10,"v":-0.13},{"id":"k5","c":"k","t":12.5,"v":-0.6},{"id":"k5","c":"k","t":15,"v":-0.86},{"id":"k5","c":"k","t":17.5,"v":-0.6},{"id":"k5","c":"k","t":21,"v":-0.34},{"id":"k5","c":"k","t":27.5,"v":-0.13},{"id":"k5","c":"k","t":40,"v":0},
       {"id":"k6","c":"k","t":7.5,"v":0},{"id":"k6","c":"k","t":10,"v":-0.1},{"id":"k6","c":"k","t":12.5,"v":-0.46},{"id":"k6","c":"k","t":15,"v":-0.65},{"id":"k6","c":"k","t":17.5,"v":-0.46},{"id":"k6","c":"k","t":21,"v":-0.26},{"id":"k6","c":"k","t":27.5,"v":-0.1},{"id":"k6","c":"k","t":40,"v":0},
       {"id":"k7","c":"k","t":7.5,"v":0},{"id":"k7","c":"k","t":10,"v":-0.06},{"id":"k7","c":"k","t":12.5,"v":-0.29},{"id":"k7","c":"k","t":15,"v":-0.42},{"id":"k7","c":"k","t":17.5,"v":-0.29},{"id":"k7","c":"k","t":21,"v":-0.17},{"id":"k7","c":"k","t":27.5,"v":-0.06},{"id":"k7","c":"k","t":40,"v":0},
       {"id":"k8","c":"k","t":7.5,"v":0},{"id":"k8","c":"k","t":10,"v":-0.04},{"id":"k8","c":"k","t":12.5,"v":-0.18},{"id":"k8","c":"k","t":15,"v":-0.25},{"id":"k8","c":"k","t":17.5,"v":-0.18},{"id":"k8","c":"k","t":21,"v":-0.1},{"id":"k8","c":"k","t":27.5,"v":-0.04},{"id":"k8","c":"k","t":40,"v":0},
       {"id":"g1","c":"g","t":7.5,"v":-2.63},{"id":"g1","c":"g","t":10,"v":-2.93},{"id":"g1","c":"g","t":12.5,"v":-4.03},{"id":"g1","c":"g","t":15,"v":-4.63},{"id":"g1","c":"g","t":17.5,"v":-4.23},{"id":"g1","c":"g","t":21,"v":-3.73},{"id":"g1","c":"g","t":27.5,"v":-3.23},{"id":"g1","c":"g","t":40,"v":-2.73},
       {"id":"g2","c":"g","t":7.5,"v":-2.63},{"id":"g2","c":"g","t":10,"v":-2.88},{"id":"g2","c":"g","t":12.5,"v":-3.79},{"id":"g2","c":"g","t":15,"v":-4.28},{"id":"g2","c":"g","t":17.5,"v":-3.95},{"id":"g2","c":"g","t":21,"v":-3.54},{"id":"g2","c":"g","t":27.5,"v":-3.13},{"id":"g2","c":"g","t":40,"v":-2.71},
       {"id":"g3","c":"g","t":7.5,"v":-2.63},{"id":"g3","c":"g","t":10,"v":-2.83},{"id":"g3","c":"g","t":12.5,"v":-3.54},{"id":"g3","c":"g","t":15,"v":-3.93},{"id":"g3","c":"g","t":17.5,"v":-3.67},{"id":"g3","c":"g","t":21,"v":-3.35},{"id":"g3","c":"g","t":27.5,"v":-3.02},{"id":"g3","c":"g","t":40,"v":-2.7},
       {"id":"g4","c":"g","t":7.5,"v":-2.63},{"id":"g4","c":"g","t":10,"v":-2.79},{"id":"g4","c":"g","t":12.5,"v":-3.36},{"id":"g4","c":"g","t":15,"v":-3.67},{"id":"g4","c":"g","t":17.5,"v":-3.46},{"id":"g4","c":"g","t":21,"v":-3.2},{"id":"g4","c":"g","t":27.5,"v":-2.94},{"id":"g4","c":"g","t":40,"v":-2.68},
       {"id":"g5","c":"g","t":7.5,"v":-2.63},{"id":"g5","c":"g","t":10,"v":-2.75},{"id":"g5","c":"g","t":12.5,"v":-3.17},{"id":"g5","c":"g","t":15,"v":-3.4},{"id":"g5","c":"g","t":17.5,"v":-3.25},{"id":"g5","c":"g","t":21,"v":-3.05},{"id":"g5","c":"g","t":27.5,"v":-2.86},{"id":"g5","c":"g","t":40,"v":-2.67},
       {"id":"g6","c":"g","t":7.5,"v":-2.63},{"id":"g6","c":"g","t":10,"v":-2.71},{"id":"g6","c":"g","t":12.5,"v":-2.99},{"id":"g6","c":"g","t":15,"v":-3.14},{"id":"g6","c":"g","t":17.5,"v":-3.04},{"id":"g6","c":"g","t":21,"v":-2.91},{"id":"g6","c":"g","t":27.5,"v":-2.78},{"id":"g6","c":"g","t":40,"v":-2.66},
       {"id":"g7","c":"g","t":7.5,"v":-2.63},{"id":"g7","c":"g","t":10,"v":-2.68},{"id":"g7","c":"g","t":12.5,"v":-2.86},{"id":"g7","c":"g","t":15,"v":-2.96},{"id":"g7","c":"g","t":17.5,"v":-2.89},{"id":"g7","c":"g","t":21,"v":-2.81},{"id":"g7","c":"g","t":27.5,"v":-2.73},{"id":"g7","c":"g","t":40,"v":-2.65},
       {"id":"g8","c":"g","t":7.5,"v":-2.63},{"id":"g8","c":"g","t":10,"v":-2.65},{"id":"g8","c":"g","t":12.5,"v":-2.74},{"id":"g8","c":"g","t":15,"v":-2.79},{"id":"g8","c":"g","t":17.5,"v":-2.76},{"id":"g8","c":"g","t":21,"v":-2.72},{"id":"g8","c":"g","t":27.5,"v":-2.68},{"id":"g8","c":"g","t":40,"v":-2.64}
      ]},
      "mark": {"type": "line", "strokeWidth": 0.7, "interpolate": "monotone"},
      "encoding": {
       "x": {"field": "t", "type": "quantitative", "scale": {"domain": [-97.5, -10], "nice": false, "zero": false}, "axis": null},
       "y": {"field": "v", "type": "quantitative", "scale": {"domain": [-6.421, 0.526], "nice": false, "zero": false}, "axis": null},
       "detail": {"field": "id"},
       "color": {"field": "c", "type": "nominal", "scale": {"domain": ["k", "g", "l"], "range": ["#000", "#8a8a8a", "#b3b1dc"]}, "legend": null}
      }},
     {"data": {"values": [{"t": 28.75, "t2": 28.75, "v": -5.05, "v2": -6.05}, {"t": 28.75, "t2": 38.75, "v": -6.05, "v2": -6.05}]},
      "mark": {"type": "rule", "color": "#000", "strokeWidth": 1},
      "encoding": {
       "x": {"field": "t", "type": "quantitative", "scale": {"domain": [-97.5, -10], "nice": false, "zero": false}, "axis": null},
       "x2": {"field": "t2"},
       "y": {"field": "v", "type": "quantitative", "scale": {"domain": [-6.421, 0.526], "nice": false, "zero": false}, "axis": null},
       "y2": {"field": "v2"}
      }},
     {"data": {"values": [{"t": 27, "v": -5.6, "s": "1 mV"}, {"t": 39, "v": -6.5, "s": "10 ms"}]},
      "mark": {"type": "text", "align": "right", "baseline": "middle", "fontSize": 12},
      "encoding": {
       "x": {"field": "t", "type": "quantitative", "scale": {"domain": [-97.5, -10], "nice": false, "zero": false}, "axis": null},
       "y": {"field": "v", "type": "quantitative", "scale": {"domain": [-6.421, 0.526], "nice": false, "zero": false}, "axis": null},
       "text": {"field": "s"}
      }}
    ]
   }
  ]
 },
 {
  "width": 137, "height": 131,
  "title": {"text": "b", "dx": -41, "offset": 3},
  "resolve": {"scale": {"x": "independent", "y": "independent"}},
  "layer": [
   {
    "data": {"name": "pp"},
    "encoding": {
     "x": {"field": "isi", "type": "quantitative", "title": "ISI (ms)", "scale": {"domain": [0, 170], "nice": false, "zero": false}, "axis": {"values": [0, 40, 80, 120, 160], "labelOverlap": false}},
     "y": {"field": "y", "type": "quantitative", "title": "Slope 2/slope1 (%)", "scale": {"domain": [100, 180], "nice": false, "zero": false}, "axis": {"values": [100, 120, 140, 160, 180], "labelOverlap": false}}
    },
    "layer": [
     {"mark": {"type": "errorbar", "ticks": true, "size": 4, "thickness": 0.8, "color": "#222"}, "encoding": {"yError": {"field": "e"}}},
     {"mark": {"type": "point", "filled": true, "stroke": "#000", "strokeWidth": 0.9, "size": 28, "opacity": 1},
      "encoding": {
       "shape": {"field": "g", "type": "nominal", "scale": {"domain": ["w", "k"], "range": ["square", "circle"]}, "legend": {"title": null, "legendX": 67, "legendY": 6, "rowPadding": 2, "labelFontSize": 11.5, "labelExpr": "datum.value == 'w' ? '+/+' : 'ephrinA3⁻/⁻'", "encode": {"symbols": {"update": {"stroke": {"value": "#000"}, "strokeWidth": {"value": 0.8}}}}}},
       "fill": {"field": "g", "type": "nominal", "scale": {"domain": ["w", "k"], "range": ["#000", "#fff"]}, "legend": {"title": null, "legendX": 67, "legendY": 6, "rowPadding": 2, "labelFontSize": 11.5, "labelExpr": "datum.value == 'w' ? '+/+' : 'ephrinA3⁻/⁻'", "encode": {"symbols": {"update": {"stroke": {"value": "#000"}, "strokeWidth": {"value": 0.8}}}}}}
      }}
    ]
   },
   {
    "layer": [
     {"data": {"values": [
       {"id":"k1","c":"k","t":0,"v":0},{"id":"k1","c":"k","t":8,"v":0},{"id":"k1","c":"k","t":12,"v":-0.29},{"id":"k1","c":"k","t":18,"v":-0.93},{"id":"k1","c":"k","t":24,"v":-0.64},{"id":"k1","c":"k","t":30,"v":-0.29},{"id":"k1","c":"k","t":38,"v":-0.14},{"id":"k1","c":"k","t":42,"v":-0.07},{"id":"k1","c":"k","t":48,"v":-0.07},{"id":"k1","c":"k","t":51,"v":-0.64},{"id":"k1","c":"k","t":54,"v":-1.43},{"id":"k1","c":"k","t":60,"v":-0.86},{"id":"k1","c":"k","t":66,"v":-0.43},{"id":"k1","c":"k","t":76,"v":-0.14},{"id":"k1","c":"k","t":86,"v":0},{"id":"k1","c":"k","t":96,"v":0.07},
       {"id":"g1","c":"g","t":0,"v":-2.07},{"id":"g1","c":"g","t":8,"v":-2.07},{"id":"g1","c":"g","t":12,"v":-2.4},{"id":"g1","c":"g","t":18,"v":-3.36},{"id":"g1","c":"g","t":24,"v":-3.0},{"id":"g1","c":"g","t":30,"v":-2.5},{"id":"g1","c":"g","t":38,"v":-2.25},{"id":"g1","c":"g","t":42,"v":-2.15},{"id":"g1","c":"g","t":48,"v":-2.15},{"id":"g1","c":"g","t":51,"v":-2.8},{"id":"g1","c":"g","t":54,"v":-3.71},{"id":"g1","c":"g","t":60,"v":-3.1},{"id":"g1","c":"g","t":66,"v":-2.6},{"id":"g1","c":"g","t":76,"v":-2.25},{"id":"g1","c":"g","t":86,"v":-2.07},{"id":"g1","c":"g","t":96,"v":-1.93}
      ]},
      "mark": {"type": "line", "strokeWidth": 1, "interpolate": "monotone"},
      "encoding": {
       "x": {"field": "t", "type": "quantitative", "scale": {"domain": [-306, -32], "nice": false, "zero": false}, "axis": null},
       "y": {"field": "v", "type": "quantitative", "scale": {"domain": [-8.571, 0.786], "nice": false, "zero": false}, "axis": null},
       "detail": {"field": "id"},
       "color": {"field": "c", "type": "nominal", "scale": {"domain": ["k", "g", "l"], "range": ["#000", "#8a8a8a", "#b3b1dc"]}, "legend": null}
      }},
     {"data": {"values": [{"t": 56, "t2": 56, "v": -4.55, "v2": -5.57}, {"t": 56, "t2": 95, "v": -5.57, "v2": -5.57}]},
      "mark": {"type": "rule", "color": "#000", "strokeWidth": 1},
      "encoding": {
       "x": {"field": "t", "type": "quantitative", "scale": {"domain": [-306, -32], "nice": false, "zero": false}, "axis": null},
       "x2": {"field": "t2"},
       "y": {"field": "v", "type": "quantitative", "scale": {"domain": [-8.571, 0.786], "nice": false, "zero": false}, "axis": null},
       "y2": {"field": "v2"}
      }},
     {"data": {"values": [{"t": 44, "v": -5.21, "s": "1 mV"}]},
      "mark": {"type": "text", "align": "right", "baseline": "middle", "fontSize": 12},
      "encoding": {
       "x": {"field": "t", "type": "quantitative", "scale": {"domain": [-306, -32], "nice": false, "zero": false}, "axis": null},
       "y": {"field": "v", "type": "quantitative", "scale": {"domain": [-8.571, 0.786], "nice": false, "zero": false}, "axis": null},
       "text": {"field": "s"}
      }},
     {"data": {"values": [{"t": 68, "v": -6.29, "s": "40 ms"}]},
      "mark": {"type": "text", "align": "center", "baseline": "middle", "fontSize": 12},
      "encoding": {
       "x": {"field": "t", "type": "quantitative", "scale": {"domain": [-306, -32], "nice": false, "zero": false}, "axis": null},
       "y": {"field": "v", "type": "quantitative", "scale": {"domain": [-8.571, 0.786], "nice": false, "zero": false}, "axis": null},
       "text": {"field": "s"}
      }}
    ]
   }
  ]
 },
 {
  "width": 227, "height": 131,
  "title": {"text": "c", "dx": -41, "offset": -17},
  "resolve": {"scale": {"x": "independent", "y": "independent"}},
  "layer": [
   {"layer": [
     {"data": {"values": [{}]}, "mark": {"type": "rule", "color": "#000", "strokeWidth": 1}, "encoding": {"y": {"datum": 100, "type": "quantitative", "scale": {"domain": [75, 225], "nice": false, "zero": false}, "title": "Slope (% of baseline)", "axis": {"values": [75, 100, 125, 150, 175, 200, 225], "labelOverlap": false, "labelFontSize": 12.5}}}},
     {"data": {"name": "tc"}, "transform": [{"filter": "datum.p == 'c'"}],
      "encoding": {
       "x": {"field": "t", "type": "quantitative", "title": "Time (min)", "scale": {"domain": [0, 85], "nice": false, "zero": false}, "axis": {"values": [0, 10, 20, 30, 40, 50, 60, 70, 80], "labelOverlap": false, "labelFontSize": 12.5}},
       "y": {"field": "y", "type": "quantitative", "title": "Slope (% of baseline)", "scale": {"domain": [75, 225], "nice": false, "zero": false}, "axis": {"values": [75, 100, 125, 150, 175, 200, 225], "labelOverlap": false, "labelFontSize": 12.5}}
      },
      "layer": [
       {"mark": {"type": "errorbar", "ticks": true, "size": 3, "thickness": 0.7, "color": "#333"}, "encoding": {"yError": {"field": "e"}}},
       {"mark": {"type": "point", "filled": true, "stroke": "#000", "strokeWidth": 0.7, "size": 16, "opacity": 1},
        "encoding": {
         "shape": {"field": "g", "type": "nominal", "scale": {"domain": ["w", "k"], "range": ["square", "circle"]}, "legend": {"title": null, "legendX": 5, "legendY": -27, "rowPadding": 0, "labelFontSize": 11.5, "labelExpr": "datum.value == 'w' ? '+/+' : 'ephrinA3⁻/⁻'", "encode": {"symbols": {"update": {"stroke": {"value": "#000"}, "strokeWidth": {"value": 0.8}}}}}},
         "fill": {"field": "g", "type": "nominal", "scale": {"domain": ["w", "k"], "range": ["#000", "#fff"]}, "legend": {"title": null, "legendX": 5, "legendY": -27, "rowPadding": 0, "labelFontSize": 11.5, "labelExpr": "datum.value == 'w' ? '+/+' : 'ephrinA3⁻/⁻'", "encode": {"symbols": {"update": {"stroke": {"value": "#000"}, "strokeWidth": {"value": 0.8}}}}}}
        }}
      ]},
     {"data": {"values": [{"t": 21, "y": 83, "s": "TBS"}]}, "mark": {"type": "text", "baseline": "middle", "fontSize": 12},
      "encoding": {"x": {"field": "t", "type": "quantitative", "title": "Time (min)", "axis": {"values": [0, 10, 20, 30, 40, 50, 60, 70, 80], "labelOverlap": false, "labelFontSize": 12.5}}, "y": {"field": "y", "type": "quantitative", "title": "Slope (% of baseline)", "axis": {"values": [75, 100, 125, 150, 175, 200, 225], "labelOverlap": false, "labelFontSize": 12.5}}, "text": {"field": "s"}}},
     {"data": {"values": [{"t": 21, "y": 93}]}, "mark": {"type": "point", "shape": "triangle-up", "filled": true, "size": 8, "color": "#000", "opacity": 1},
      "encoding": {"x": {"field": "t", "type": "quantitative", "title": "Time (min)", "axis": {"values": [0, 10, 20, 30, 40, 50, 60, 70, 80], "labelOverlap": false, "labelFontSize": 12.5}}, "y": {"field": "y", "type": "quantitative", "title": "Slope (% of baseline)", "axis": {"values": [75, 100, 125, 150, 175, 200, 225], "labelOverlap": false, "labelFontSize": 12.5}}}}
   ]},
   {"layer": [
     {"data": {"values": [
       {"id":"kd","c":"k","t":0,"v":0},{"id":"kd","c":"k","t":6,"v":0},
       {"id":"gd","c":"g","t":0,"v":-1.6},{"id":"gd","c":"g","t":6,"v":-1.6},
       {"id":"k1","c":"k","t":8.5,"v":0},{"id":"k1","c":"k","t":10,"v":-0.35},{"id":"k1","c":"k","t":12.5,"v":-0.81},{"id":"k1","c":"k","t":15,"v":-0.5},{"id":"k1","c":"k","t":18,"v":-0.1},{"id":"k1","c":"k","t":22,"v":0.05},{"id":"k1","c":"k","t":28,"v":0.05},{"id":"k1","c":"k","t":32,"v":0.05},
       {"id":"k2","c":"k","t":8.5,"v":0},{"id":"k2","c":"k","t":10,"v":-0.5},{"id":"k2","c":"k","t":12.5,"v":-1.14},{"id":"k2","c":"k","t":15,"v":-0.9},{"id":"k2","c":"k","t":18,"v":-0.45},{"id":"k2","c":"k","t":22,"v":-0.2},{"id":"k2","c":"k","t":28,"v":-0.05},{"id":"k2","c":"k","t":32,"v":0.05},
       {"id":"g1","c":"g","t":8.5,"v":-1.6},{"id":"g1","c":"g","t":10,"v":-1.75},{"id":"g1","c":"g","t":12.5,"v":-2.16},{"id":"g1","c":"g","t":15,"v":-1.95},{"id":"g1","c":"g","t":18,"v":-1.7},{"id":"g1","c":"g","t":22,"v":-1.55},{"id":"g1","c":"g","t":28,"v":-1.48},{"id":"g1","c":"g","t":32,"v":-1.44},
       {"id":"g2","c":"g","t":8.5,"v":-1.6},{"id":"g2","c":"g","t":10,"v":-1.8},{"id":"g2","c":"g","t":12.5,"v":-2.32},{"id":"g2","c":"g","t":15,"v":-2.1},{"id":"g2","c":"g","t":18,"v":-1.85},{"id":"g2","c":"g","t":22,"v":-1.65},{"id":"g2","c":"g","t":28,"v":-1.5},{"id":"g2","c":"g","t":32,"v":-1.44}
      ]},
      "mark": {"type": "line", "strokeWidth": 0.9, "interpolate": "monotone"},
      "encoding": {
       "x": {"field": "t", "type": "quantitative", "scale": {"domain": [-60.5, 53], "nice": false, "zero": false}, "axis": null},
       "y": {"field": "v", "type": "quantitative", "scale": {"domain": [-6.762, -0.524], "nice": false, "zero": false}, "axis": null},
       "detail": {"field": "id"},
       "color": {"field": "c", "type": "nominal", "scale": {"domain": ["k", "g", "l"], "range": ["#000", "#8a8a8a", "#b3b1dc"]}, "legend": null}
      }},
     {"data": {"values": [{"t": 14, "v": -0.37, "c": "k"}, {"t": 14.2, "v": -1.89, "c": "l"}]},
      "mark": {"type": "point", "shape": "M0,-1L0.235,-0.324L0.951,-0.309L0.38,0.124L0.588,0.809L0,0.4L-0.588,0.809L-0.38,0.124L-0.951,-0.309L-0.235,-0.324Z", "filled": true, "size": 30, "opacity": 1},
      "encoding": {
       "x": {"field": "t", "type": "quantitative", "scale": {"domain": [-60.5, 53], "nice": false, "zero": false}, "axis": null},
       "y": {"field": "v", "type": "quantitative", "scale": {"domain": [-6.762, -0.524], "nice": false, "zero": false}, "axis": null},
       "color": {"field": "c", "type": "nominal", "scale": {"domain": ["k", "g", "l"], "range": ["#000", "#8a8a8a", "#b3b1dc"]}, "legend": null}
      }},
     {"data": {"values": [{"t": 15.8, "v": -1.16, "c": "k"}, {"t": 16, "v": -2.52, "c": "l"}]},
      "mark": {"type": "point", "shape": "triangle-up", "filled": true, "size": 22, "opacity": 1},
      "encoding": {
       "x": {"field": "t", "type": "quantitative", "scale": {"domain": [-60.5, 53], "nice": false, "zero": false}, "axis": null},
       "y": {"field": "v", "type": "quantitative", "scale": {"domain": [-6.762, -0.524], "nice": false, "zero": false}, "axis": null},
       "color": {"field": "c", "type": "nominal", "scale": {"domain": ["k", "g", "l"], "range": ["#000", "#8a8a8a", "#b3b1dc"]}, "legend": null}
      }},
     {"data": {"values": [{"t": 39.5, "t2": 39.5, "v": -0.48, "v2": -1.48}, {"t": 39.5, "t2": 49.5, "v": -1.48, "v2": -1.48}]},
      "mark": {"type": "rule", "color": "#000", "strokeWidth": 1},
      "encoding": {
       "x": {"field": "t", "type": "quantitative", "scale": {"domain": [-60.5, 53], "nice": false, "zero": false}, "axis": null},
       "x2": {"field": "t2"},
       "y": {"field": "v", "type": "quantitative", "scale": {"domain": [-6.762, -0.524], "nice": false, "zero": false}, "axis": null},
       "y2": {"field": "v2"}
      }},
     {"data": {"values": [{"t": 36, "v": -0.95, "s": "1 mV"}]},
      "mark": {"type": "text", "angle": 270, "align": "center", "baseline": "middle", "fontSize": 12},
      "encoding": {
       "x": {"field": "t", "type": "quantitative", "scale": {"domain": [-60.5, 53], "nice": false, "zero": false}, "axis": null},
       "y": {"field": "v", "type": "quantitative", "scale": {"domain": [-6.762, -0.524], "nice": false, "zero": false}, "axis": null},
       "text": {"field": "s"}
      }},
     {"data": {"values": [{"t": 44.5, "v": -1.86, "s": "10 ms"}]},
      "mark": {"type": "text", "align": "center", "baseline": "middle", "fontSize": 12},
      "encoding": {
       "x": {"field": "t", "type": "quantitative", "scale": {"domain": [-60.5, 53], "nice": false, "zero": false}, "axis": null},
       "y": {"field": "v", "type": "quantitative", "scale": {"domain": [-6.762, -0.524], "nice": false, "zero": false}, "axis": null},
       "text": {"field": "s"}
      }}
   ]}
  ]
 },
 {
  "width": 227, "height": 131,
  "title": {"text": "d", "dx": -41, "offset": -17},
  "resolve": {"scale": {"x": "independent", "y": "independent"}},
  "layer": [
   {"layer": [
     {"data": {"values": [{}]}, "mark": {"type": "rule", "color": "#000", "strokeWidth": 1}, "encoding": {"y": {"datum": 100, "type": "quantitative", "scale": {"domain": [75, 225], "nice": false, "zero": false}, "title": "Slope (% of baseline)", "axis": {"values": [75, 100, 125, 150, 175, 200, 225], "labelOverlap": false, "labelFontSize": 12.5}}}},
     {"data": {"name": "tc"}, "transform": [{"filter": "datum.p == 'd'"}],
      "encoding": {
       "x": {"field": "t", "type": "quantitative", "title": "Time (min)", "scale": {"domain": [0, 85], "nice": false, "zero": false}, "axis": {"values": [0, 10, 20, 30, 40, 50, 60, 70, 80], "labelOverlap": false, "labelFontSize": 12.5}},
       "y": {"field": "y", "type": "quantitative", "title": "Slope (% of baseline)", "scale": {"domain": [75, 225], "nice": false, "zero": false}, "axis": {"values": [75, 100, 125, 150, 175, 200, 225], "labelOverlap": false, "labelFontSize": 12.5}}
      },
      "layer": [
       {"mark": {"type": "errorbar", "ticks": true, "size": 3, "thickness": 0.7, "color": "#333"}, "encoding": {"yError": {"field": "e"}}},
       {"mark": {"type": "point", "filled": true, "stroke": "#000", "strokeWidth": 0.7, "size": 16, "opacity": 1},
        "encoding": {
         "shape": {"field": "g", "type": "nominal", "scale": {"domain": ["w", "k"], "range": ["square", "circle"]}, "legend": {"title": null, "legendX": 5, "legendY": -27, "rowPadding": 0, "labelFontSize": 11.5, "labelExpr": "datum.value == 'w' ? '+/+' : 'ephrinA3⁻/⁻'", "encode": {"symbols": {"update": {"stroke": {"value": "#000"}, "strokeWidth": {"value": 0.8}}}}}},
         "fill": {"field": "g", "type": "nominal", "scale": {"domain": ["w", "k"], "range": ["#000", "#fff"]}, "legend": {"title": null, "legendX": 5, "legendY": -27, "rowPadding": 0, "labelFontSize": 11.5, "labelExpr": "datum.value == 'w' ? '+/+' : 'ephrinA3⁻/⁻'", "encode": {"symbols": {"update": {"stroke": {"value": "#000"}, "strokeWidth": {"value": 0.8}}}}}}
        }}
      ]},
     {"data": {"values": [{"t": 21, "y": 83, "s": "Tetanus"}]}, "mark": {"type": "text", "baseline": "middle", "fontSize": 12},
      "encoding": {"x": {"field": "t", "type": "quantitative", "title": "Time (min)", "axis": {"values": [0, 10, 20, 30, 40, 50, 60, 70, 80], "labelOverlap": false, "labelFontSize": 12.5}}, "y": {"field": "y", "type": "quantitative", "title": "Slope (% of baseline)", "axis": {"values": [75, 100, 125, 150, 175, 200, 225], "labelOverlap": false, "labelFontSize": 12.5}}, "text": {"field": "s"}}},
     {"data": {"values": [{"t": 21, "y": 93}]}, "mark": {"type": "point", "shape": "triangle-up", "filled": true, "size": 8, "color": "#000", "opacity": 1},
      "encoding": {"x": {"field": "t", "type": "quantitative", "title": "Time (min)", "axis": {"values": [0, 10, 20, 30, 40, 50, 60, 70, 80], "labelOverlap": false, "labelFontSize": 12.5}}, "y": {"field": "y", "type": "quantitative", "title": "Slope (% of baseline)", "axis": {"values": [75, 100, 125, 150, 175, 200, 225], "labelOverlap": false, "labelFontSize": 12.5}}}}
   ]},
   {"layer": [
     {"data": {"values": [
       {"id":"kd","c":"k","t":0,"v":0},{"id":"kd","c":"k","t":4.5,"v":0},
       {"id":"gd","c":"g","t":0,"v":-1.4},{"id":"gd","c":"g","t":4.5,"v":-1.4},
       {"id":"k1","c":"k","t":8.5,"v":0},{"id":"k1","c":"k","t":10,"v":-0.35},{"id":"k1","c":"k","t":12,"v":-0.78},{"id":"k1","c":"k","t":14,"v":-0.55},{"id":"k1","c":"k","t":17,"v":-0.3},{"id":"k1","c":"k","t":21,"v":-0.12},{"id":"k1","c":"k","t":26,"v":-0.03},{"id":"k1","c":"k","t":31,"v":0.05},
       {"id":"k2","c":"k","t":8.5,"v":0},{"id":"k2","c":"k","t":10,"v":-0.5},{"id":"k2","c":"k","t":12,"v":-1.2},{"id":"k2","c":"k","t":14,"v":-0.9},{"id":"k2","c":"k","t":17,"v":-0.5},{"id":"k2","c":"k","t":21,"v":-0.22},{"id":"k2","c":"k","t":26,"v":-0.07},{"id":"k2","c":"k","t":31,"v":0.05},
       {"id":"g1","c":"g","t":8.5,"v":-1.4},{"id":"g1","c":"g","t":10,"v":-1.75},{"id":"g1","c":"g","t":12,"v":-2.32},{"id":"g1","c":"g","t":14,"v":-2.05},{"id":"g1","c":"g","t":17,"v":-1.75},{"id":"g1","c":"g","t":21,"v":-1.55},{"id":"g1","c":"g","t":26,"v":-1.45},{"id":"g1","c":"g","t":31,"v":-1.38},
       {"id":"g2","c":"g","t":8.5,"v":-1.4},{"id":"g2","c":"g","t":10,"v":-1.9},{"id":"g2","c":"g","t":12,"v":-2.63},{"id":"g2","c":"g","t":14,"v":-2.3},{"id":"g2","c":"g","t":17,"v":-1.95},{"id":"g2","c":"g","t":21,"v":-1.65},{"id":"g2","c":"g","t":26,"v":-1.5},{"id":"g2","c":"g","t":31,"v":-1.38}
      ]},
      "mark": {"type": "line", "strokeWidth": 0.9, "interpolate": "monotone"},
      "encoding": {
       "x": {"field": "t", "type": "quantitative", "scale": {"domain": [-59.5, 54], "nice": false, "zero": false}, "axis": null},
       "y": {"field": "v", "type": "quantitative", "scale": {"domain": [-6.762, -0.524], "nice": false, "zero": false}, "axis": null},
       "detail": {"field": "id"},
       "color": {"field": "c", "type": "nominal", "scale": {"domain": ["k", "g", "l"], "range": ["#000", "#8a8a8a", "#b3b1dc"]}, "legend": null}
      }},
     {"data": {"values": [{"t": 12.7, "v": -0.33, "c": "k"}, {"t": 12.7, "v": -1.81, "c": "l"}]},
      "mark": {"type": "point", "shape": "M0,-1L0.235,-0.324L0.951,-0.309L0.38,0.124L0.588,0.809L0,0.4L-0.588,0.809L-0.38,0.124L-0.951,-0.309L-0.235,-0.324Z", "filled": true, "size": 30, "opacity": 1},
      "encoding": {
       "x": {"field": "t", "type": "quantitative", "scale": {"domain": [-59.5, 54], "nice": false, "zero": false}, "axis": null},
       "y": {"field": "v", "type": "quantitative", "scale": {"domain": [-6.762, -0.524], "nice": false, "zero": false}, "axis": null},
       "color": {"field": "c", "type": "nominal", "scale": {"domain": ["k", "g", "l"], "range": ["#000", "#8a8a8a", "#b3b1dc"]}, "legend": null}
      }},
     {"data": {"values": [{"t": 15.5, "v": -1.16, "c": "k"}, {"t": 15.5, "v": -2.59, "c": "l"}]},
      "mark": {"type": "point", "shape": "triangle-up", "filled": true, "size": 22, "opacity": 1},
      "encoding": {
       "x": {"field": "t", "type": "quantitative", "scale": {"domain": [-59.5, 54], "nice": false, "zero": false}, "axis": null},
       "y": {"field": "v", "type": "quantitative", "scale": {"domain": [-6.762, -0.524], "nice": false, "zero": false}, "axis": null},
       "color": {"field": "c", "type": "nominal", "scale": {"domain": ["k", "g", "l"], "range": ["#000", "#8a8a8a", "#b3b1dc"]}, "legend": null}
      }},
     {"data": {"values": [{"t": 40.2, "t2": 40.2, "v": -0.49, "v2": -1.52}, {"t": 40.2, "t2": 50.2, "v": -1.52, "v2": -1.52}]},
      "mark": {"type": "rule", "color": "#000", "strokeWidth": 1},
      "encoding": {
       "x": {"field": "t", "type": "quantitative", "scale": {"domain": [-59.5, 54], "nice": false, "zero": false}, "axis": null},
       "x2": {"field": "t2"},
       "y": {"field": "v", "type": "quantitative", "scale": {"domain": [-6.762, -0.524], "nice": false, "zero": false}, "axis": null},
       "y2": {"field": "v2"}
      }},
     {"data": {"values": [{"t": 36.5, "v": -0.95, "s": "1 mV"}]},
      "mark": {"type": "text", "angle": 270, "align": "center", "baseline": "middle", "fontSize": 12},
      "encoding": {
       "x": {"field": "t", "type": "quantitative", "scale": {"domain": [-59.5, 54], "nice": false, "zero": false}, "axis": null},
       "y": {"field": "v", "type": "quantitative", "scale": {"domain": [-6.762, -0.524], "nice": false, "zero": false}, "axis": null},
       "text": {"field": "s"}
      }},
     {"data": {"values": [{"t": 45, "v": -1.86, "s": "10 ms"}]},
      "mark": {"type": "text", "align": "center", "baseline": "middle", "fontSize": 12},
      "encoding": {
       "x": {"field": "t", "type": "quantitative", "scale": {"domain": [-59.5, 54], "nice": false, "zero": false}, "axis": null},
       "y": {"field": "v", "type": "quantitative", "scale": {"domain": [-6.762, -0.524], "nice": false, "zero": false}, "axis": null},
       "text": {"field": "s"}
      }}
   ]}
  ]
 },
 {
  "width": 227, "height": 128,
  "title": {"text": "e", "dx": -40, "offset": -17},
  "resolve": {"scale": {"x": "independent", "y": "independent"}},
  "layer": [
   {"layer": [
     {"data": {"values": [{}]}, "mark": {"type": "rule", "color": "#000", "strokeWidth": 1}, "encoding": {"y": {"datum": 100, "type": "quantitative", "scale": {"domain": [75, 250], "nice": false, "zero": false}, "title": "Slope (% of baseline)", "axis": {"values": [75, 100, 125, 150, 175, 200, 225, 250], "labelOverlap": false, "labelFontSize": 12.5}}}},
     {"data": {"name": "tc"}, "transform": [{"filter": "datum.p == 'e'"}],
      "encoding": {
       "x": {"field": "t", "type": "quantitative", "title": "Time (min)", "scale": {"domain": [0, 85], "nice": false, "zero": false}, "axis": {"values": [0, 10, 20, 30, 40, 50, 60, 70, 80], "labelOverlap": false, "labelFontSize": 12.5}},
       "y": {"field": "y", "type": "quantitative", "title": "Slope (% of baseline)", "scale": {"domain": [75, 250], "nice": false, "zero": false}, "axis": {"values": [75, 100, 125, 150, 175, 200, 225, 250], "labelOverlap": false, "labelFontSize": 12.5}}
      },
      "layer": [
       {"mark": {"type": "errorbar", "ticks": true, "size": 3, "thickness": 0.7, "color": "#333"}, "encoding": {"yError": {"field": "e"}}},
       {"mark": {"type": "point", "filled": true, "stroke": "#000", "strokeWidth": 0.7, "size": 16, "opacity": 1},
        "encoding": {
         "shape": {"field": "g", "type": "nominal", "scale": {"domain": ["w", "k"], "range": ["square", "circle"]}, "legend": {"title": null, "legendX": 5, "legendY": -27, "rowPadding": 0, "labelFontSize": 11.5, "labelExpr": "datum.value == 'w' ? 'EphA4ˡˣ/⁻' : 'CA1-Cre; EphA4ˡˣ/⁻'", "encode": {"symbols": {"update": {"stroke": {"value": "#000"}, "strokeWidth": {"value": 0.8}}}}}},
         "fill": {"field": "g", "type": "nominal", "scale": {"domain": ["w", "k"], "range": ["#000", "#fff"]}, "legend": {"title": null, "legendX": 5, "legendY": -27, "rowPadding": 0, "labelFontSize": 11.5, "labelExpr": "datum.value == 'w' ? 'EphA4ˡˣ/⁻' : 'CA1-Cre; EphA4ˡˣ/⁻'", "encode": {"symbols": {"update": {"stroke": {"value": "#000"}, "strokeWidth": {"value": 0.8}}}}}}
        }}
      ]},
     {"data": {"values": [{"t": 20.5, "y": 82, "s": "Tetanus"}]}, "mark": {"type": "text", "baseline": "middle", "fontSize": 12},
      "encoding": {"x": {"field": "t", "type": "quantitative", "title": "Time (min)", "axis": {"values": [0, 10, 20, 30, 40, 50, 60, 70, 80], "labelOverlap": false, "labelFontSize": 12.5}}, "y": {"field": "y", "type": "quantitative", "title": "Slope (% of baseline)", "axis": {"values": [75, 100, 125, 150, 175, 200, 225, 250], "labelOverlap": false, "labelFontSize": 12.5}}, "text": {"field": "s"}}},
     {"data": {"values": [{"t": 20.5, "y": 94}]}, "mark": {"type": "point", "shape": "triangle-up", "filled": true, "size": 8, "color": "#000", "opacity": 1},
      "encoding": {"x": {"field": "t", "type": "quantitative", "title": "Time (min)", "axis": {"values": [0, 10, 20, 30, 40, 50, 60, 70, 80], "labelOverlap": false, "labelFontSize": 12.5}}, "y": {"field": "y", "type": "quantitative", "title": "Slope (% of baseline)", "axis": {"values": [75, 100, 125, 150, 175, 200, 225, 250], "labelOverlap": false, "labelFontSize": 12.5}}}}
   ]},
   {"layer": [
     {"data": {"values": [
       {"id":"kd","c":"k","t":0,"v":0},{"id":"kd","c":"k","t":4,"v":0},
       {"id":"gd","c":"g","t":0,"v":-1.5},{"id":"gd","c":"g","t":4,"v":-1.5},
       {"id":"k1","c":"k","t":6.5,"v":0},{"id":"k1","c":"k","t":8,"v":-0.3},{"id":"k1","c":"k","t":10.5,"v":-0.72},{"id":"k1","c":"k","t":12.5,"v":-0.5},{"id":"k1","c":"k","t":15.5,"v":-0.25},{"id":"k1","c":"k","t":19.5,"v":-0.1},{"id":"k1","c":"k","t":25,"v":-0.03},{"id":"k1","c":"k","t":30.5,"v":0},
       {"id":"k2","c":"k","t":6.5,"v":0},{"id":"k2","c":"k","t":8,"v":-0.45},{"id":"k2","c":"k","t":10.5,"v":-1.05},{"id":"k2","c":"k","t":12.5,"v":-0.8},{"id":"k2","c":"k","t":15.5,"v":-0.45},{"id":"k2","c":"k","t":19.5,"v":-0.2},{"id":"k2","c":"k","t":25,"v":-0.06},{"id":"k2","c":"k","t":30.5,"v":0},
       {"id":"g1","c":"g","t":6.5,"v":-1.5},{"id":"g1","c":"g","t":8,"v":-1.8},{"id":"g1","c":"g","t":10.5,"v":-2.47},{"id":"g1","c":"g","t":12.5,"v":-2.2},{"id":"g1","c":"g","t":15.5,"v":-1.9},{"id":"g1","c":"g","t":19.5,"v":-1.65},{"id":"g1","c":"g","t":25,"v":-1.52},{"id":"g1","c":"g","t":30.5,"v":-1.45},
       {"id":"g2","c":"g","t":6.5,"v":-1.5},{"id":"g2","c":"g","t":8,"v":-1.9},{"id":"g2","c":"g","t":10.5,"v":-2.75},{"id":"g2","c":"g","t":12.5,"v":-2.45},{"id":"g2","c":"g","t":15.5,"v":-2.05},{"id":"g2","c":"g","t":19.5,"v":-1.75},{"id":"g2","c":"g","t":25,"v":-1.55},{"id":"g2","c":"g","t":30.5,"v":-1.45}
      ]},
      "mark": {"type": "line", "strokeWidth": 0.9, "interpolate": "monotone"},
      "encoding": {
       "x": {"field": "t", "type": "quantitative", "scale": {"domain": [-62.5, 51], "nice": false, "zero": false}, "axis": null},
       "y": {"field": "v", "type": "quantitative", "scale": {"domain": [-7.035, -0.635], "nice": false, "zero": false}, "axis": null},
       "detail": {"field": "id"},
       "color": {"field": "c", "type": "nominal", "scale": {"domain": ["k", "g", "l"], "range": ["#000", "#8a8a8a", "#b3b1dc"]}, "legend": null}
      }},
     {"data": {"values": [{"t": 12.2, "v": -0.47, "c": "k"}, {"t": 12.2, "v": -1.97, "c": "l"}]},
      "mark": {"type": "point", "shape": "M0,-1L0.235,-0.324L0.951,-0.309L0.38,0.124L0.588,0.809L0,0.4L-0.588,0.809L-0.38,0.124L-0.951,-0.309L-0.235,-0.324Z", "filled": true, "size": 30, "opacity": 1},
      "encoding": {
       "x": {"field": "t", "type": "quantitative", "scale": {"domain": [-62.5, 51], "nice": false, "zero": false}, "axis": null},
       "y": {"field": "v", "type": "quantitative", "scale": {"domain": [-7.035, -0.635], "nice": false, "zero": false}, "axis": null},
       "color": {"field": "c", "type": "nominal", "scale": {"domain": ["k", "g", "l"], "range": ["#000", "#8a8a8a", "#b3b1dc"]}, "legend": null}
      }},
     {"data": {"values": [{"t": 13.5, "v": -1.25, "c": "k"}, {"t": 13.5, "v": -2.8, "c": "l"}]},
      "mark": {"type": "point", "shape": "triangle-up", "filled": true, "size": 22, "opacity": 1},
      "encoding": {
       "x": {"field": "t", "type": "quantitative", "scale": {"domain": [-62.5, 51], "nice": false, "zero": false}, "axis": null},
       "y": {"field": "v", "type": "quantitative", "scale": {"domain": [-7.035, -0.635], "nice": false, "zero": false}, "axis": null},
       "color": {"field": "c", "type": "nominal", "scale": {"domain": ["k", "g", "l"], "range": ["#000", "#8a8a8a", "#b3b1dc"]}, "legend": null}
      }},
     {"data": {"values": [{"t": 37.5, "t2": 37.5, "v": -0.47, "v2": -1.47}, {"t": 37.5, "t2": 47.5, "v": -1.47, "v2": -1.47}]},
      "mark": {"type": "rule", "color": "#000", "strokeWidth": 1},
      "encoding": {
       "x": {"field": "t", "type": "quantitative", "scale": {"domain": [-62.5, 51], "nice": false, "zero": false}, "axis": null},
       "x2": {"field": "t2"},
       "y": {"field": "v", "type": "quantitative", "scale": {"domain": [-7.035, -0.635], "nice": false, "zero": false}, "axis": null},
       "y2": {"field": "v2"}
      }},
     {"data": {"values": [{"t": 34, "v": -0.95, "s": "1 mV"}]},
      "mark": {"type": "text", "angle": 270, "align": "center", "baseline": "middle", "fontSize": 12},
      "encoding": {
       "x": {"field": "t", "type": "quantitative", "scale": {"domain": [-62.5, 51], "nice": false, "zero": false}, "axis": null},
       "y": {"field": "v", "type": "quantitative", "scale": {"domain": [-7.035, -0.635], "nice": false, "zero": false}, "axis": null},
       "text": {"field": "s"}
      }},
     {"data": {"values": [{"t": 42.5, "v": -1.89, "s": "10 ms"}]},
      "mark": {"type": "text", "align": "center", "baseline": "middle", "fontSize": 12},
      "encoding": {
       "x": {"field": "t", "type": "quantitative", "scale": {"domain": [-62.5, 51], "nice": false, "zero": false}, "axis": null},
       "y": {"field": "v", "type": "quantitative", "scale": {"domain": [-7.035, -0.635], "nice": false, "zero": false}, "axis": null},
       "text": {"field": "s"}
      }}
   ]}
  ]
 },
 {
  "width": 227, "height": 128,
  "title": {"text": "f", "dx": -40, "offset": -17},
  "resolve": {"scale": {"x": "independent", "y": "independent"}},
  "layer": [
   {"layer": [
     {"data": {"values": [{}]}, "mark": {"type": "rule", "color": "#000", "strokeWidth": 1}, "encoding": {"y": {"datum": 100, "type": "quantitative", "scale": {"domain": [75, 250], "nice": false, "zero": false}, "title": "Slope (% of baseline)", "axis": {"values": [75, 100, 125, 150, 175, 200, 225, 250], "labelOverlap": false, "labelFontSize": 12.5}}}},
     {"data": {"name": "tc"}, "transform": [{"filter": "datum.p == 'f'"}],
      "encoding": {
       "x": {"field": "t", "type": "quantitative", "title": "Time (min)", "scale": {"domain": [0, 85], "nice": false, "zero": false}, "axis": {"values": [0, 10, 20, 30, 40, 50, 60, 70, 80], "labelOverlap": false, "labelFontSize": 12.5}},
       "y": {"field": "y", "type": "quantitative", "title": "Slope (% of baseline)", "scale": {"domain": [75, 250], "nice": false, "zero": false}, "axis": {"values": [75, 100, 125, 150, 175, 200, 225, 250], "labelOverlap": false, "labelFontSize": 12.5}}
      },
      "layer": [
       {"mark": {"type": "errorbar", "ticks": true, "size": 3, "thickness": 0.7, "color": "#333"}, "encoding": {"yError": {"field": "e"}}},
       {"mark": {"type": "point", "filled": true, "stroke": "#000", "strokeWidth": 0.7, "size": 16, "opacity": 1},
        "encoding": {
         "shape": {"field": "g", "type": "nominal", "scale": {"domain": ["w", "k"], "range": ["square", "circle"]}, "legend": {"title": null, "legendX": 5, "legendY": -27, "rowPadding": 0, "labelFontSize": 11.5, "labelExpr": "datum.value == 'w' ? 'EphA4ˡˣ/⁻' : 'CA3-Cre; EphA4ˡˣ/⁻'", "encode": {"symbols": {"update": {"stroke": {"value": "#000"}, "strokeWidth": {"value": 0.8}}}}}},
         "fill": {"field": "g", "type": "nominal", "scale": {"domain": ["w", "k"], "range": ["#000", "#fff"]}, "legend": {"title": null, "legendX": 5, "legendY": -27, "rowPadding": 0, "labelFontSize": 11.5, "labelExpr": "datum.value == 'w' ? 'EphA4ˡˣ/⁻' : 'CA3-Cre; EphA4ˡˣ/⁻'", "encode": {"symbols": {"update": {"stroke": {"value": "#000"}, "strokeWidth": {"value": 0.8}}}}}}
        }}
      ]},
     {"data": {"values": [{"t": 20.5, "y": 82, "s": "Tetanus"}]}, "mark": {"type": "text", "baseline": "middle", "fontSize": 12},
      "encoding": {"x": {"field": "t", "type": "quantitative", "title": "Time (min)", "axis": {"values": [0, 10, 20, 30, 40, 50, 60, 70, 80], "labelOverlap": false, "labelFontSize": 12.5}}, "y": {"field": "y", "type": "quantitative", "title": "Slope (% of baseline)", "axis": {"values": [75, 100, 125, 150, 175, 200, 225, 250], "labelOverlap": false, "labelFontSize": 12.5}}, "text": {"field": "s"}}},
     {"data": {"values": [{"t": 20.5, "y": 94}]}, "mark": {"type": "point", "shape": "triangle-up", "filled": true, "size": 8, "color": "#000", "opacity": 1},
      "encoding": {"x": {"field": "t", "type": "quantitative", "title": "Time (min)", "axis": {"values": [0, 10, 20, 30, 40, 50, 60, 70, 80], "labelOverlap": false, "labelFontSize": 12.5}}, "y": {"field": "y", "type": "quantitative", "title": "Slope (% of baseline)", "axis": {"values": [75, 100, 125, 150, 175, 200, 225, 250], "labelOverlap": false, "labelFontSize": 12.5}}}}
   ]},
   {"layer": [
     {"data": {"values": [
       {"id":"kd","c":"k","t":0,"v":0},{"id":"kd","c":"k","t":3.5,"v":0},
       {"id":"gd","c":"g","t":-0.5,"v":-1.5},{"id":"gd","c":"g","t":3.5,"v":-1.5},
       {"id":"k1","c":"k","t":6,"v":0},{"id":"k1","c":"k","t":8,"v":-0.25},{"id":"k1","c":"k","t":11,"v":-0.58},{"id":"k1","c":"k","t":13,"v":-0.45},{"id":"k1","c":"k","t":16,"v":-0.25},{"id":"k1","c":"k","t":20,"v":-0.1},{"id":"k1","c":"k","t":25,"v":-0.02},{"id":"k1","c":"k","t":31,"v":0},
       {"id":"k2","c":"k","t":6,"v":0},{"id":"k2","c":"k","t":8,"v":-0.4},{"id":"k2","c":"k","t":11,"v":-1.0},{"id":"k2","c":"k","t":13,"v":-0.75},{"id":"k2","c":"k","t":16,"v":-0.45},{"id":"k2","c":"k","t":20,"v":-0.2},{"id":"k2","c":"k","t":25,"v":-0.05},{"id":"k2","c":"k","t":31,"v":0},
       {"id":"g1","c":"g","t":6,"v":-1.5},{"id":"g1","c":"g","t":8,"v":-1.75},{"id":"g1","c":"g","t":11,"v":-2.41},{"id":"g1","c":"g","t":13,"v":-2.2},{"id":"g1","c":"g","t":16,"v":-1.95},{"id":"g1","c":"g","t":20,"v":-1.75},{"id":"g1","c":"g","t":25,"v":-1.62},{"id":"g1","c":"g","t":31,"v":-1.56},
       {"id":"g2","c":"g","t":6,"v":-1.5},{"id":"g2","c":"g","t":8,"v":-1.85},{"id":"g2","c":"g","t":11,"v":-2.78},{"id":"g2","c":"g","t":13,"v":-2.5},{"id":"g2","c":"g","t":16,"v":-2.15},{"id":"g2","c":"g","t":20,"v":-1.85},{"id":"g2","c":"g","t":25,"v":-1.68},{"id":"g2","c":"g","t":31,"v":-1.56}
      ]},
      "mark": {"type": "line", "strokeWidth": 0.9, "interpolate": "monotone"},
      "encoding": {
       "x": {"field": "t", "type": "quantitative", "scale": {"domain": [-59.5, 54], "nice": false, "zero": false}, "axis": null},
       "y": {"field": "v", "type": "quantitative", "scale": {"domain": [-7.065, -0.665], "nice": false, "zero": false}, "axis": null},
       "detail": {"field": "id"},
       "color": {"field": "c", "type": "nominal", "scale": {"domain": ["k", "g", "l"], "range": ["#000", "#8a8a8a", "#b3b1dc"]}, "legend": null}
      }},
     {"data": {"values": [{"t": 12.3, "v": -0.38, "c": "k"}, {"t": 12.7, "v": -1.91, "c": "l"}]},
      "mark": {"type": "point", "shape": "M0,-1L0.235,-0.324L0.951,-0.309L0.38,0.124L0.588,0.809L0,0.4L-0.588,0.809L-0.38,0.124L-0.951,-0.309L-0.235,-0.324Z", "filled": true, "size": 30, "opacity": 1},
      "encoding": {
       "x": {"field": "t", "type": "quantitative", "scale": {"domain": [-59.5, 54], "nice": false, "zero": false}, "axis": null},
       "y": {"field": "v", "type": "quantitative", "scale": {"domain": [-7.065, -0.665], "nice": false, "zero": false}, "axis": null},
       "color": {"field": "c", "type": "nominal", "scale": {"domain": ["k", "g", "l"], "range": ["#000", "#8a8a8a", "#b3b1dc"]}, "legend": null}
      }},
     {"data": {"values": [{"t": 14.3, "v": -1.25, "c": "k"}, {"t": 14.3, "v": -2.88, "c": "l"}]},
      "mark": {"type": "point", "shape": "triangle-up", "filled": true, "size": 22, "opacity": 1},
      "encoding": {
       "x": {"field": "t", "type": "quantitative", "scale": {"domain": [-59.5, 54], "nice": false, "zero": false}, "axis": null},
       "y": {"field": "v", "type": "quantitative", "scale": {"domain": [-7.065, -0.665], "nice": false, "zero": false}, "axis": null},
       "color": {"field": "c", "type": "nominal", "scale": {"domain": ["k", "g", "l"], "range": ["#000", "#8a8a8a", "#b3b1dc"]}, "legend": null}
      }},
     {"data": {"values": [{"t": 39.7, "t2": 39.7, "v": -0.2, "v2": -1.5}, {"t": 39.7, "t2": 49.7, "v": -1.5, "v2": -1.5}]},
      "mark": {"type": "rule", "color": "#000", "strokeWidth": 1},
      "encoding": {
       "x": {"field": "t", "type": "quantitative", "scale": {"domain": [-59.5, 54], "nice": false, "zero": false}, "axis": null},
       "x2": {"field": "t2"},
       "y": {"field": "v", "type": "quantitative", "scale": {"domain": [-7.065, -0.665], "nice": false, "zero": false}, "axis": null},
       "y2": {"field": "v2"}
      }},
     {"data": {"values": [{"t": 36, "v": -0.8, "s": "1 mV"}]},
      "mark": {"type": "text", "angle": 270, "align": "center", "baseline": "middle", "fontSize": 12},
      "encoding": {
       "x": {"field": "t", "type": "quantitative", "scale": {"domain": [-59.5, 54], "nice": false, "zero": false}, "axis": null},
       "y": {"field": "v", "type": "quantitative", "scale": {"domain": [-7.065, -0.665], "nice": false, "zero": false}, "axis": null},
       "text": {"field": "s"}
      }},
     {"data": {"values": [{"t": 44.5, "v": -1.92, "s": "10 ms"}]},
      "mark": {"type": "text", "align": "center", "baseline": "middle", "fontSize": 12},
      "encoding": {
       "x": {"field": "t", "type": "quantitative", "scale": {"domain": [-59.5, 54], "nice": false, "zero": false}, "axis": null},
       "y": {"field": "v", "type": "quantitative", "scale": {"domain": [-7.065, -0.665], "nice": false, "zero": false}, "axis": null},
       "text": {"field": "s"}
      }}
   ]}
  ]
 }
]
}
